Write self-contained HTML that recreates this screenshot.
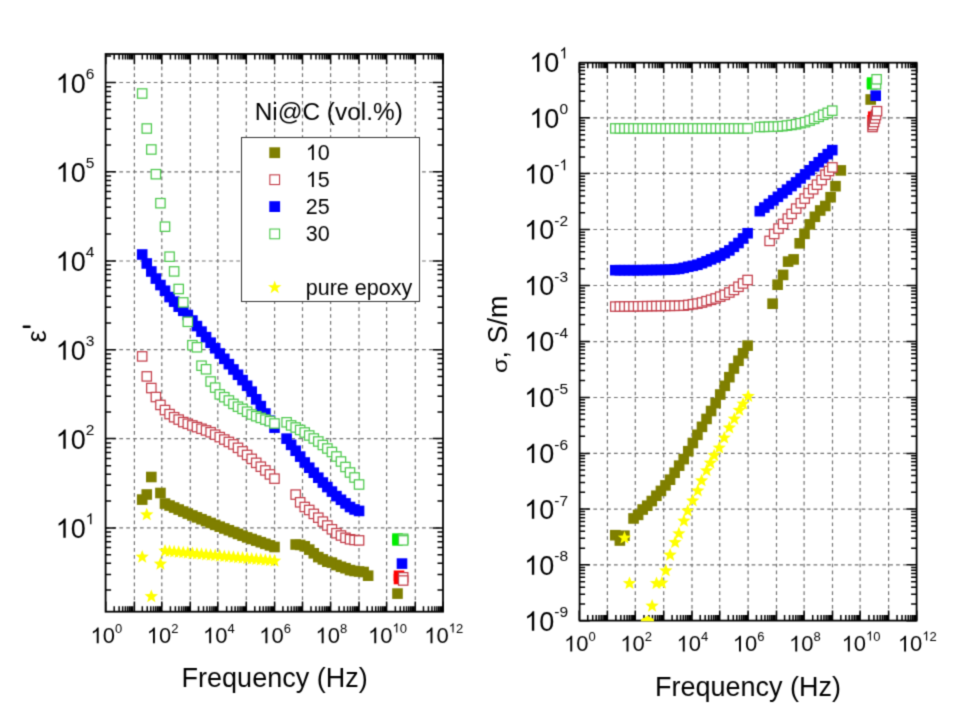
<!DOCTYPE html>
<html><head><meta charset="utf-8"><style>
html,body{margin:0;padding:0;background:#fff;}
svg{display:block;will-change:transform;}
text{font-family:"Liberation Sans",sans-serif;}
</style></head><body>
<svg width="965" height="714" viewBox="0 0 965 714">
<defs><filter id="soft" x="0" y="0" width="965" height="714" filterUnits="userSpaceOnUse" color-interpolation-filters="sRGB"><feConvolveMatrix order="3" kernelMatrix="0.0625 0.25 0.0625 0.25 1 0.25 0.0625 0.25 0.0625" divisor="2.25" edgeMode="duplicate"/></filter></defs>
<g filter="url(#soft)">
<rect width="965" height="714" fill="#fff"/>
<g id="left">
<line x1="134.40" y1="54.00" x2="134.40" y2="611.70" stroke="#727272" stroke-width="1.2" stroke-dasharray="3.7 3.18" stroke-dashoffset="1.28"/>
<line x1="161.80" y1="54.00" x2="161.80" y2="611.70" stroke="#727272" stroke-width="1.2" stroke-dasharray="3.7 3.18" stroke-dashoffset="1.28"/>
<line x1="190.30" y1="54.00" x2="190.30" y2="611.70" stroke="#727272" stroke-width="1.2" stroke-dasharray="3.7 3.18" stroke-dashoffset="1.28"/>
<line x1="217.80" y1="54.00" x2="217.80" y2="611.70" stroke="#727272" stroke-width="1.2" stroke-dasharray="3.7 3.18" stroke-dashoffset="1.28"/>
<line x1="246.30" y1="54.00" x2="246.30" y2="611.70" stroke="#727272" stroke-width="1.2" stroke-dasharray="3.7 3.18" stroke-dashoffset="1.28"/>
<line x1="274.60" y1="54.00" x2="274.60" y2="611.70" stroke="#727272" stroke-width="1.2" stroke-dasharray="3.7 3.18" stroke-dashoffset="1.28"/>
<line x1="302.50" y1="54.00" x2="302.50" y2="611.70" stroke="#727272" stroke-width="1.2" stroke-dasharray="3.7 3.18" stroke-dashoffset="1.28"/>
<line x1="330.60" y1="54.00" x2="330.60" y2="611.70" stroke="#727272" stroke-width="1.2" stroke-dasharray="3.7 3.18" stroke-dashoffset="1.28"/>
<line x1="359.00" y1="54.00" x2="359.00" y2="611.70" stroke="#727272" stroke-width="1.2" stroke-dasharray="3.7 3.18" stroke-dashoffset="1.28"/>
<line x1="386.60" y1="54.00" x2="386.60" y2="611.70" stroke="#727272" stroke-width="1.2" stroke-dasharray="3.7 3.18" stroke-dashoffset="1.28"/>
<line x1="415.30" y1="54.00" x2="415.30" y2="611.70" stroke="#727272" stroke-width="1.2" stroke-dasharray="3.7 3.18" stroke-dashoffset="1.28"/>
<line x1="105.60" y1="527.90" x2="443.00" y2="527.90" stroke="#727272" stroke-width="1.2" stroke-dasharray="3.7 3.18"/>
<line x1="105.60" y1="438.60" x2="443.00" y2="438.60" stroke="#727272" stroke-width="1.2" stroke-dasharray="3.7 3.18"/>
<line x1="105.60" y1="349.70" x2="443.00" y2="349.70" stroke="#727272" stroke-width="1.2" stroke-dasharray="3.7 3.18"/>
<line x1="105.60" y1="261.00" x2="443.00" y2="261.00" stroke="#727272" stroke-width="1.2" stroke-dasharray="3.7 3.18"/>
<line x1="105.60" y1="171.80" x2="443.00" y2="171.80" stroke="#727272" stroke-width="1.2" stroke-dasharray="3.7 3.18"/>
<line x1="105.60" y1="82.50" x2="443.00" y2="82.50" stroke="#727272" stroke-width="1.2" stroke-dasharray="3.7 3.18"/>
<rect x="241.5" y="137.5" width="178" height="164" fill="#fff" stroke="#333" stroke-width="1"/>
<rect x="136.90" y="494.30" width="10.60" height="10.60" fill="#7f7f00"/>
<rect x="141.46" y="489.20" width="10.60" height="10.60" fill="#7f7f00"/>
<rect x="146.02" y="471.70" width="10.60" height="10.60" fill="#7f7f00"/>
<rect x="155.15" y="487.70" width="10.60" height="10.60" fill="#7f7f00"/>
<rect x="159.71" y="498.25" width="10.60" height="10.60" fill="#7f7f00"/>
<rect x="164.27" y="500.25" width="10.60" height="10.60" fill="#7f7f00"/>
<rect x="168.83" y="502.25" width="10.60" height="10.60" fill="#7f7f00"/>
<rect x="173.40" y="504.25" width="10.60" height="10.60" fill="#7f7f00"/>
<rect x="177.96" y="506.25" width="10.60" height="10.60" fill="#7f7f00"/>
<rect x="182.52" y="508.24" width="10.60" height="10.60" fill="#7f7f00"/>
<rect x="187.08" y="510.18" width="10.60" height="10.60" fill="#7f7f00"/>
<rect x="191.64" y="512.05" width="10.60" height="10.60" fill="#7f7f00"/>
<rect x="196.21" y="513.93" width="10.60" height="10.60" fill="#7f7f00"/>
<rect x="200.77" y="515.80" width="10.60" height="10.60" fill="#7f7f00"/>
<rect x="205.33" y="517.67" width="10.60" height="10.60" fill="#7f7f00"/>
<rect x="209.89" y="519.55" width="10.60" height="10.60" fill="#7f7f00"/>
<rect x="214.45" y="521.39" width="10.60" height="10.60" fill="#7f7f00"/>
<rect x="219.02" y="523.18" width="10.60" height="10.60" fill="#7f7f00"/>
<rect x="223.58" y="524.97" width="10.60" height="10.60" fill="#7f7f00"/>
<rect x="228.14" y="526.77" width="10.60" height="10.60" fill="#7f7f00"/>
<rect x="232.70" y="528.56" width="10.60" height="10.60" fill="#7f7f00"/>
<rect x="237.26" y="530.35" width="10.60" height="10.60" fill="#7f7f00"/>
<rect x="241.83" y="532.10" width="10.60" height="10.60" fill="#7f7f00"/>
<rect x="246.39" y="533.70" width="10.60" height="10.60" fill="#7f7f00"/>
<rect x="250.95" y="535.30" width="10.60" height="10.60" fill="#7f7f00"/>
<rect x="255.51" y="536.90" width="10.60" height="10.60" fill="#7f7f00"/>
<rect x="260.07" y="538.50" width="10.60" height="10.60" fill="#7f7f00"/>
<rect x="264.64" y="540.10" width="10.60" height="10.60" fill="#7f7f00"/>
<rect x="269.20" y="541.70" width="10.60" height="10.60" fill="#7f7f00"/>
<rect x="290.36" y="539.20" width="10.60" height="10.60" fill="#7f7f00"/>
<rect x="294.89" y="539.60" width="10.60" height="10.60" fill="#7f7f00"/>
<rect x="299.42" y="541.00" width="10.60" height="10.60" fill="#7f7f00"/>
<rect x="303.95" y="544.30" width="10.60" height="10.60" fill="#7f7f00"/>
<rect x="308.48" y="548.00" width="10.60" height="10.60" fill="#7f7f00"/>
<rect x="313.01" y="551.80" width="10.60" height="10.60" fill="#7f7f00"/>
<rect x="317.54" y="554.10" width="10.60" height="10.60" fill="#7f7f00"/>
<rect x="322.07" y="556.40" width="10.60" height="10.60" fill="#7f7f00"/>
<rect x="326.60" y="557.30" width="10.60" height="10.60" fill="#7f7f00"/>
<rect x="331.13" y="559.70" width="10.60" height="10.60" fill="#7f7f00"/>
<rect x="335.66" y="561.50" width="10.60" height="10.60" fill="#7f7f00"/>
<rect x="340.19" y="562.90" width="10.60" height="10.60" fill="#7f7f00"/>
<rect x="344.72" y="564.80" width="10.60" height="10.60" fill="#7f7f00"/>
<rect x="349.25" y="565.70" width="10.60" height="10.60" fill="#7f7f00"/>
<rect x="353.78" y="566.20" width="10.60" height="10.60" fill="#7f7f00"/>
<rect x="358.31" y="566.70" width="10.60" height="10.60" fill="#7f7f00"/>
<rect x="362.84" y="570.40" width="10.60" height="10.60" fill="#7f7f00"/>
<rect x="136.90" y="249.20" width="10.60" height="10.60" fill="#0000ff"/>
<rect x="141.46" y="258.17" width="10.60" height="10.60" fill="#0000ff"/>
<rect x="146.02" y="266.20" width="10.60" height="10.60" fill="#0000ff"/>
<rect x="150.59" y="273.26" width="10.60" height="10.60" fill="#0000ff"/>
<rect x="155.15" y="279.75" width="10.60" height="10.60" fill="#0000ff"/>
<rect x="159.71" y="285.44" width="10.60" height="10.60" fill="#0000ff"/>
<rect x="164.27" y="291.77" width="10.60" height="10.60" fill="#0000ff"/>
<rect x="168.83" y="296.35" width="10.60" height="10.60" fill="#0000ff"/>
<rect x="173.40" y="301.38" width="10.60" height="10.60" fill="#0000ff"/>
<rect x="177.96" y="305.48" width="10.60" height="10.60" fill="#0000ff"/>
<rect x="182.52" y="309.71" width="10.60" height="10.60" fill="#0000ff"/>
<rect x="187.08" y="315.25" width="10.60" height="10.60" fill="#0000ff"/>
<rect x="191.64" y="320.78" width="10.60" height="10.60" fill="#0000ff"/>
<rect x="196.21" y="326.32" width="10.60" height="10.60" fill="#0000ff"/>
<rect x="200.77" y="331.86" width="10.60" height="10.60" fill="#0000ff"/>
<rect x="205.33" y="337.40" width="10.60" height="10.60" fill="#0000ff"/>
<rect x="209.89" y="342.92" width="10.60" height="10.60" fill="#0000ff"/>
<rect x="214.45" y="348.23" width="10.60" height="10.60" fill="#0000ff"/>
<rect x="219.02" y="353.54" width="10.60" height="10.60" fill="#0000ff"/>
<rect x="223.58" y="358.85" width="10.60" height="10.60" fill="#0000ff"/>
<rect x="228.14" y="364.16" width="10.60" height="10.60" fill="#0000ff"/>
<rect x="232.70" y="369.47" width="10.60" height="10.60" fill="#0000ff"/>
<rect x="237.26" y="374.78" width="10.60" height="10.60" fill="#0000ff"/>
<rect x="241.83" y="380.48" width="10.60" height="10.60" fill="#0000ff"/>
<rect x="246.39" y="386.35" width="10.60" height="10.60" fill="#0000ff"/>
<rect x="250.95" y="394.02" width="10.60" height="10.60" fill="#0000ff"/>
<rect x="255.51" y="400.82" width="10.60" height="10.60" fill="#0000ff"/>
<rect x="260.07" y="408.22" width="10.60" height="10.60" fill="#0000ff"/>
<rect x="264.64" y="415.41" width="10.60" height="10.60" fill="#0000ff"/>
<rect x="269.20" y="422.35" width="10.60" height="10.60" fill="#0000ff"/>
<rect x="281.30" y="433.35" width="10.60" height="10.60" fill="#0000ff"/>
<rect x="285.83" y="439.55" width="10.60" height="10.60" fill="#0000ff"/>
<rect x="290.36" y="445.43" width="10.60" height="10.60" fill="#0000ff"/>
<rect x="294.89" y="451.31" width="10.60" height="10.60" fill="#0000ff"/>
<rect x="299.42" y="457.20" width="10.60" height="10.60" fill="#0000ff"/>
<rect x="303.95" y="462.41" width="10.60" height="10.60" fill="#0000ff"/>
<rect x="308.48" y="467.41" width="10.60" height="10.60" fill="#0000ff"/>
<rect x="313.01" y="472.41" width="10.60" height="10.60" fill="#0000ff"/>
<rect x="317.54" y="477.24" width="10.60" height="10.60" fill="#0000ff"/>
<rect x="322.07" y="481.77" width="10.60" height="10.60" fill="#0000ff"/>
<rect x="326.60" y="486.30" width="10.60" height="10.60" fill="#0000ff"/>
<rect x="331.13" y="490.83" width="10.60" height="10.60" fill="#0000ff"/>
<rect x="335.66" y="494.48" width="10.60" height="10.60" fill="#0000ff"/>
<rect x="340.19" y="498.10" width="10.60" height="10.60" fill="#0000ff"/>
<rect x="344.72" y="501.72" width="10.60" height="10.60" fill="#0000ff"/>
<rect x="349.25" y="504.14" width="10.60" height="10.60" fill="#0000ff"/>
<rect x="353.78" y="505.63" width="10.60" height="10.60" fill="#0000ff"/>
<rect x="137.52" y="351.72" width="9.35" height="9.35" fill="#fff" stroke="#c23c48" stroke-width="1.25"/>
<rect x="142.09" y="371.72" width="9.35" height="9.35" fill="#fff" stroke="#c23c48" stroke-width="1.25"/>
<rect x="146.65" y="383.37" width="9.35" height="9.35" fill="#fff" stroke="#c23c48" stroke-width="1.25"/>
<rect x="151.21" y="392.36" width="9.35" height="9.35" fill="#fff" stroke="#c23c48" stroke-width="1.25"/>
<rect x="155.77" y="400.24" width="9.35" height="9.35" fill="#fff" stroke="#c23c48" stroke-width="1.25"/>
<rect x="160.33" y="405.39" width="9.35" height="9.35" fill="#fff" stroke="#c23c48" stroke-width="1.25"/>
<rect x="164.90" y="409.44" width="9.35" height="9.35" fill="#fff" stroke="#c23c48" stroke-width="1.25"/>
<rect x="169.46" y="412.55" width="9.35" height="9.35" fill="#fff" stroke="#c23c48" stroke-width="1.25"/>
<rect x="174.02" y="414.93" width="9.35" height="9.35" fill="#fff" stroke="#c23c48" stroke-width="1.25"/>
<rect x="178.58" y="417.42" width="9.35" height="9.35" fill="#fff" stroke="#c23c48" stroke-width="1.25"/>
<rect x="183.14" y="419.09" width="9.35" height="9.35" fill="#fff" stroke="#c23c48" stroke-width="1.25"/>
<rect x="187.71" y="420.76" width="9.35" height="9.35" fill="#fff" stroke="#c23c48" stroke-width="1.25"/>
<rect x="192.27" y="422.42" width="9.35" height="9.35" fill="#fff" stroke="#c23c48" stroke-width="1.25"/>
<rect x="196.83" y="424.09" width="9.35" height="9.35" fill="#fff" stroke="#c23c48" stroke-width="1.25"/>
<rect x="201.39" y="425.76" width="9.35" height="9.35" fill="#fff" stroke="#c23c48" stroke-width="1.25"/>
<rect x="205.95" y="427.57" width="9.35" height="9.35" fill="#fff" stroke="#c23c48" stroke-width="1.25"/>
<rect x="210.52" y="430.00" width="9.35" height="9.35" fill="#fff" stroke="#c23c48" stroke-width="1.25"/>
<rect x="215.08" y="432.43" width="9.35" height="9.35" fill="#fff" stroke="#c23c48" stroke-width="1.25"/>
<rect x="219.64" y="434.87" width="9.35" height="9.35" fill="#fff" stroke="#c23c48" stroke-width="1.25"/>
<rect x="224.20" y="437.30" width="9.35" height="9.35" fill="#fff" stroke="#c23c48" stroke-width="1.25"/>
<rect x="228.76" y="439.73" width="9.35" height="9.35" fill="#fff" stroke="#c23c48" stroke-width="1.25"/>
<rect x="233.33" y="443.16" width="9.35" height="9.35" fill="#fff" stroke="#c23c48" stroke-width="1.25"/>
<rect x="237.89" y="446.70" width="9.35" height="9.35" fill="#fff" stroke="#c23c48" stroke-width="1.25"/>
<rect x="242.45" y="450.30" width="9.35" height="9.35" fill="#fff" stroke="#c23c48" stroke-width="1.25"/>
<rect x="247.01" y="454.17" width="9.35" height="9.35" fill="#fff" stroke="#c23c48" stroke-width="1.25"/>
<rect x="251.57" y="458.17" width="9.35" height="9.35" fill="#fff" stroke="#c23c48" stroke-width="1.25"/>
<rect x="256.14" y="462.04" width="9.35" height="9.35" fill="#fff" stroke="#c23c48" stroke-width="1.25"/>
<rect x="260.70" y="465.76" width="9.35" height="9.35" fill="#fff" stroke="#c23c48" stroke-width="1.25"/>
<rect x="265.26" y="469.73" width="9.35" height="9.35" fill="#fff" stroke="#c23c48" stroke-width="1.25"/>
<rect x="269.82" y="473.99" width="9.35" height="9.35" fill="#fff" stroke="#c23c48" stroke-width="1.25"/>
<rect x="290.99" y="489.93" width="9.35" height="9.35" fill="#fff" stroke="#c23c48" stroke-width="1.25"/>
<rect x="295.51" y="497.62" width="9.35" height="9.35" fill="#fff" stroke="#c23c48" stroke-width="1.25"/>
<rect x="300.05" y="502.32" width="9.35" height="9.35" fill="#fff" stroke="#c23c48" stroke-width="1.25"/>
<rect x="304.57" y="505.32" width="9.35" height="9.35" fill="#fff" stroke="#c23c48" stroke-width="1.25"/>
<rect x="309.11" y="509.22" width="9.35" height="9.35" fill="#fff" stroke="#c23c48" stroke-width="1.25"/>
<rect x="313.63" y="513.03" width="9.35" height="9.35" fill="#fff" stroke="#c23c48" stroke-width="1.25"/>
<rect x="318.17" y="516.93" width="9.35" height="9.35" fill="#fff" stroke="#c23c48" stroke-width="1.25"/>
<rect x="322.69" y="520.83" width="9.35" height="9.35" fill="#fff" stroke="#c23c48" stroke-width="1.25"/>
<rect x="327.23" y="524.62" width="9.35" height="9.35" fill="#fff" stroke="#c23c48" stroke-width="1.25"/>
<rect x="331.75" y="528.53" width="9.35" height="9.35" fill="#fff" stroke="#c23c48" stroke-width="1.25"/>
<rect x="336.29" y="530.83" width="9.35" height="9.35" fill="#fff" stroke="#c23c48" stroke-width="1.25"/>
<rect x="340.81" y="533.12" width="9.35" height="9.35" fill="#fff" stroke="#c23c48" stroke-width="1.25"/>
<rect x="345.35" y="534.62" width="9.35" height="9.35" fill="#fff" stroke="#c23c48" stroke-width="1.25"/>
<rect x="349.88" y="535.33" width="9.35" height="9.35" fill="#fff" stroke="#c23c48" stroke-width="1.25"/>
<rect x="354.41" y="535.73" width="9.35" height="9.35" fill="#fff" stroke="#c23c48" stroke-width="1.25"/>
<rect x="137.52" y="88.83" width="9.35" height="9.35" fill="#fff" stroke="#4cc84c" stroke-width="1.25"/>
<rect x="142.09" y="123.83" width="9.35" height="9.35" fill="#fff" stroke="#4cc84c" stroke-width="1.25"/>
<rect x="146.65" y="144.82" width="9.35" height="9.35" fill="#fff" stroke="#4cc84c" stroke-width="1.25"/>
<rect x="151.21" y="169.52" width="9.35" height="9.35" fill="#fff" stroke="#4cc84c" stroke-width="1.25"/>
<rect x="155.77" y="198.52" width="9.35" height="9.35" fill="#fff" stroke="#4cc84c" stroke-width="1.25"/>
<rect x="160.33" y="222.02" width="9.35" height="9.35" fill="#fff" stroke="#4cc84c" stroke-width="1.25"/>
<rect x="164.90" y="252.02" width="9.35" height="9.35" fill="#fff" stroke="#4cc84c" stroke-width="1.25"/>
<rect x="169.46" y="266.72" width="9.35" height="9.35" fill="#fff" stroke="#4cc84c" stroke-width="1.25"/>
<rect x="174.02" y="284.32" width="9.35" height="9.35" fill="#fff" stroke="#4cc84c" stroke-width="1.25"/>
<rect x="178.58" y="297.72" width="9.35" height="9.35" fill="#fff" stroke="#4cc84c" stroke-width="1.25"/>
<rect x="183.14" y="317.12" width="9.35" height="9.35" fill="#fff" stroke="#4cc84c" stroke-width="1.25"/>
<rect x="187.71" y="340.52" width="9.35" height="9.35" fill="#fff" stroke="#4cc84c" stroke-width="1.25"/>
<rect x="192.27" y="342.62" width="9.35" height="9.35" fill="#fff" stroke="#4cc84c" stroke-width="1.25"/>
<rect x="196.83" y="361.02" width="9.35" height="9.35" fill="#fff" stroke="#4cc84c" stroke-width="1.25"/>
<rect x="201.39" y="364.62" width="9.35" height="9.35" fill="#fff" stroke="#4cc84c" stroke-width="1.25"/>
<rect x="205.95" y="376.82" width="9.35" height="9.35" fill="#fff" stroke="#4cc84c" stroke-width="1.25"/>
<rect x="210.52" y="382.93" width="9.35" height="9.35" fill="#fff" stroke="#4cc84c" stroke-width="1.25"/>
<rect x="215.08" y="389.72" width="9.35" height="9.35" fill="#fff" stroke="#4cc84c" stroke-width="1.25"/>
<rect x="219.64" y="392.52" width="9.35" height="9.35" fill="#fff" stroke="#4cc84c" stroke-width="1.25"/>
<rect x="224.20" y="395.82" width="9.35" height="9.35" fill="#fff" stroke="#4cc84c" stroke-width="1.25"/>
<rect x="228.76" y="399.22" width="9.35" height="9.35" fill="#fff" stroke="#4cc84c" stroke-width="1.25"/>
<rect x="233.33" y="402.02" width="9.35" height="9.35" fill="#fff" stroke="#4cc84c" stroke-width="1.25"/>
<rect x="237.89" y="404.22" width="9.35" height="9.35" fill="#fff" stroke="#4cc84c" stroke-width="1.25"/>
<rect x="242.45" y="407.02" width="9.35" height="9.35" fill="#fff" stroke="#4cc84c" stroke-width="1.25"/>
<rect x="247.01" y="409.82" width="9.35" height="9.35" fill="#fff" stroke="#4cc84c" stroke-width="1.25"/>
<rect x="251.57" y="411.52" width="9.35" height="9.35" fill="#fff" stroke="#4cc84c" stroke-width="1.25"/>
<rect x="256.14" y="413.22" width="9.35" height="9.35" fill="#fff" stroke="#4cc84c" stroke-width="1.25"/>
<rect x="260.70" y="414.93" width="9.35" height="9.35" fill="#fff" stroke="#4cc84c" stroke-width="1.25"/>
<rect x="265.26" y="416.52" width="9.35" height="9.35" fill="#fff" stroke="#4cc84c" stroke-width="1.25"/>
<rect x="269.82" y="418.82" width="9.35" height="9.35" fill="#fff" stroke="#4cc84c" stroke-width="1.25"/>
<rect x="281.93" y="417.62" width="9.35" height="9.35" fill="#fff" stroke="#4cc84c" stroke-width="1.25"/>
<rect x="286.45" y="420.72" width="9.35" height="9.35" fill="#fff" stroke="#4cc84c" stroke-width="1.25"/>
<rect x="290.99" y="422.82" width="9.35" height="9.35" fill="#fff" stroke="#4cc84c" stroke-width="1.25"/>
<rect x="295.51" y="425.32" width="9.35" height="9.35" fill="#fff" stroke="#4cc84c" stroke-width="1.25"/>
<rect x="300.05" y="427.82" width="9.35" height="9.35" fill="#fff" stroke="#4cc84c" stroke-width="1.25"/>
<rect x="304.57" y="430.82" width="9.35" height="9.35" fill="#fff" stroke="#4cc84c" stroke-width="1.25"/>
<rect x="309.11" y="433.82" width="9.35" height="9.35" fill="#fff" stroke="#4cc84c" stroke-width="1.25"/>
<rect x="313.63" y="436.82" width="9.35" height="9.35" fill="#fff" stroke="#4cc84c" stroke-width="1.25"/>
<rect x="318.17" y="440.32" width="9.35" height="9.35" fill="#fff" stroke="#4cc84c" stroke-width="1.25"/>
<rect x="322.69" y="443.82" width="9.35" height="9.35" fill="#fff" stroke="#4cc84c" stroke-width="1.25"/>
<rect x="327.23" y="447.32" width="9.35" height="9.35" fill="#fff" stroke="#4cc84c" stroke-width="1.25"/>
<rect x="331.75" y="451.82" width="9.35" height="9.35" fill="#fff" stroke="#4cc84c" stroke-width="1.25"/>
<rect x="336.29" y="456.82" width="9.35" height="9.35" fill="#fff" stroke="#4cc84c" stroke-width="1.25"/>
<rect x="340.81" y="462.32" width="9.35" height="9.35" fill="#fff" stroke="#4cc84c" stroke-width="1.25"/>
<rect x="345.35" y="467.82" width="9.35" height="9.35" fill="#fff" stroke="#4cc84c" stroke-width="1.25"/>
<rect x="349.88" y="472.82" width="9.35" height="9.35" fill="#fff" stroke="#4cc84c" stroke-width="1.25"/>
<rect x="354.41" y="479.82" width="9.35" height="9.35" fill="#fff" stroke="#4cc84c" stroke-width="1.25"/>
<polygon points="142.20,550.00 143.96,554.57 148.86,554.84 145.05,557.93 146.31,562.66 142.20,560.00 138.09,562.66 139.35,557.93 135.54,554.84 140.44,554.57" fill="#ffff00"/>
<polygon points="146.76,507.70 148.53,512.27 153.42,512.54 149.62,515.63 150.88,520.36 146.76,517.70 142.65,520.36 143.91,515.63 140.10,512.54 145.00,512.27" fill="#ffff00"/>
<polygon points="151.32,589.50 153.09,594.07 157.98,594.34 154.18,597.43 155.44,602.16 151.32,599.50 147.21,602.16 148.47,597.43 144.67,594.34 149.56,594.07" fill="#ffff00"/>
<polygon points="160.45,557.00 162.21,561.57 167.11,561.84 163.30,564.93 164.56,569.66 160.45,567.00 156.33,569.66 157.59,564.93 153.79,561.84 158.68,561.57" fill="#ffff00"/>
<polygon points="165.01,544.00 166.77,548.57 171.67,548.84 167.86,551.93 169.12,556.66 165.01,554.00 160.90,556.66 162.16,551.93 158.35,548.84 163.25,548.57" fill="#ffff00"/>
<polygon points="169.57,544.42 171.34,548.99 176.23,549.25 172.43,552.34 173.69,557.08 169.57,554.42 165.46,557.08 166.72,552.34 162.91,549.25 167.81,548.99" fill="#ffff00"/>
<polygon points="174.13,544.83 175.90,549.41 180.79,549.67 176.99,552.76 178.25,557.50 174.13,554.83 170.02,557.50 171.28,552.76 167.48,549.67 172.37,549.41" fill="#ffff00"/>
<polygon points="178.70,545.25 180.46,549.82 185.35,550.09 181.55,553.18 182.81,557.91 178.70,555.25 174.58,557.91 175.84,553.18 172.04,550.09 176.93,549.82" fill="#ffff00"/>
<polygon points="183.26,545.67 185.02,550.24 189.92,550.50 186.11,553.59 187.37,558.33 183.26,555.67 179.14,558.33 180.40,553.59 176.60,550.50 181.49,550.24" fill="#ffff00"/>
<polygon points="187.82,546.08 189.58,550.66 194.48,550.92 190.67,554.01 191.93,558.75 187.82,556.08 183.71,558.75 184.97,554.01 181.16,550.92 186.06,550.66" fill="#ffff00"/>
<polygon points="192.38,546.50 194.15,551.07 199.04,551.34 195.24,554.43 196.50,559.16 192.38,556.50 188.27,559.16 189.53,554.43 185.72,551.34 190.62,551.07" fill="#ffff00"/>
<polygon points="196.94,546.92 198.71,551.49 203.60,551.75 199.80,554.84 201.06,559.58 196.94,556.92 192.83,559.58 194.09,554.84 190.29,551.75 195.18,551.49" fill="#ffff00"/>
<polygon points="201.51,547.33 203.27,551.91 208.16,552.17 204.36,555.26 205.62,560.00 201.51,557.33 197.39,560.00 198.65,555.26 194.85,552.17 199.74,551.91" fill="#ffff00"/>
<polygon points="206.07,547.75 207.83,552.32 212.73,552.59 208.92,555.68 210.18,560.41 206.07,557.75 201.95,560.41 203.21,555.68 199.41,552.59 204.30,552.32" fill="#ffff00"/>
<polygon points="210.63,548.17 212.39,552.74 217.29,553.00 213.48,556.09 214.74,560.83 210.63,558.17 206.52,560.83 207.78,556.09 203.97,553.00 208.87,552.74" fill="#ffff00"/>
<polygon points="215.19,548.58 216.96,553.16 221.85,553.42 218.05,556.51 219.31,561.25 215.19,558.58 211.08,561.25 212.34,556.51 208.53,553.42 213.43,553.16" fill="#ffff00"/>
<polygon points="219.75,549.00 221.52,553.57 226.41,553.84 222.61,556.93 223.87,561.66 219.75,559.00 215.64,561.66 216.90,556.93 213.10,553.84 217.99,553.57" fill="#ffff00"/>
<polygon points="224.32,549.42 226.08,553.99 230.97,554.25 227.17,557.34 228.43,562.08 224.32,559.42 220.20,562.08 221.46,557.34 217.66,554.25 222.55,553.99" fill="#ffff00"/>
<polygon points="228.88,549.83 230.64,554.41 235.54,554.67 231.73,557.76 232.99,562.50 228.88,559.83 224.76,562.50 226.02,557.76 222.22,554.67 227.11,554.41" fill="#ffff00"/>
<polygon points="233.44,550.25 235.20,554.82 240.10,555.09 236.29,558.18 237.55,562.91 233.44,560.25 229.33,562.91 230.59,558.18 226.78,555.09 231.68,554.82" fill="#ffff00"/>
<polygon points="238.00,550.67 239.77,555.24 244.66,555.50 240.86,558.59 242.12,563.33 238.00,560.67 233.89,563.33 235.15,558.59 231.34,555.50 236.24,555.24" fill="#ffff00"/>
<polygon points="242.56,551.08 244.33,555.66 249.22,555.92 245.42,559.01 246.68,563.75 242.56,561.08 238.45,563.75 239.71,559.01 235.91,555.92 240.80,555.66" fill="#ffff00"/>
<polygon points="247.13,551.50 248.89,556.07 253.78,556.34 249.98,559.43 251.24,564.16 247.13,561.50 243.01,564.16 244.27,559.43 240.47,556.34 245.36,556.07" fill="#ffff00"/>
<polygon points="251.69,551.92 253.45,556.49 258.35,556.75 254.54,559.84 255.80,564.58 251.69,561.92 247.57,564.58 248.83,559.84 245.03,556.75 249.92,556.49" fill="#ffff00"/>
<polygon points="256.25,552.33 258.01,556.91 262.91,557.17 259.10,560.26 260.36,565.00 256.25,562.33 252.14,565.00 253.40,560.26 249.59,557.17 254.49,556.91" fill="#ffff00"/>
<polygon points="260.81,552.75 262.58,557.32 267.47,557.59 263.67,560.68 264.93,565.41 260.81,562.75 256.70,565.41 257.96,560.68 254.15,557.59 259.05,557.32" fill="#ffff00"/>
<polygon points="265.37,553.17 267.14,557.74 272.03,558.00 268.23,561.09 269.49,565.83 265.37,563.17 261.26,565.83 262.52,561.09 258.72,558.00 263.61,557.74" fill="#ffff00"/>
<polygon points="269.94,553.58 271.70,558.16 276.59,558.42 272.79,561.51 274.05,566.25 269.94,563.58 265.82,566.25 267.08,561.51 263.28,558.42 268.17,558.16" fill="#ffff00"/>
<polygon points="274.50,554.00 276.26,558.57 281.16,558.84 277.35,561.93 278.61,566.66 274.50,564.00 270.38,566.66 271.64,561.93 267.84,558.84 272.73,558.57" fill="#ffff00"/>
<rect x="392.20" y="533.30" width="10.60" height="10.60" fill="#00ee00"/>
<rect x="392.20" y="535.10" width="10.60" height="10.60" fill="#00ee00"/>
<rect x="398.52" y="534.12" width="9.35" height="9.35" fill="#fff" stroke="#4cc84c" stroke-width="1.25"/>
<rect x="398.52" y="535.73" width="9.35" height="9.35" fill="#fff" stroke="#4cc84c" stroke-width="1.25"/>
<rect x="396.70" y="558.30" width="10.60" height="10.60" fill="#0000ff"/>
<rect x="393.70" y="570.50" width="10.60" height="10.60" fill="#ff0000"/>
<rect x="393.70" y="573.70" width="10.60" height="10.60" fill="#ff0000"/>
<rect x="398.52" y="572.62" width="9.35" height="9.35" fill="#fff" stroke="#c23c48" stroke-width="1.25"/>
<rect x="398.52" y="575.83" width="9.35" height="9.35" fill="#fff" stroke="#c23c48" stroke-width="1.25"/>
<rect x="392.20" y="588.30" width="10.60" height="10.60" fill="#7f7f00"/>
<path d="M105.73 611.70L105.73 601.50 M105.73 54.00L105.73 64.20 M114.19 611.70L114.19 606.20 M114.19 54.00L114.19 59.50 M119.15 611.70L119.15 606.20 M119.15 54.00L119.15 59.50 M122.66 611.70L122.66 606.20 M122.66 54.00L122.66 59.50 M125.38 611.70L125.38 606.20 M125.38 54.00L125.38 59.50 M127.61 611.70L127.61 606.20 M127.61 54.00L127.61 59.50 M129.49 611.70L129.49 606.20 M129.49 54.00L129.49 59.50 M131.12 611.70L131.12 606.20 M131.12 54.00L131.12 59.50 M132.56 611.70L132.56 606.20 M132.56 54.00L132.56 59.50 M134.40 611.70L134.40 601.50 M134.40 54.00L134.40 64.20 M142.31 611.70L142.31 606.20 M142.31 54.00L142.31 59.50 M147.26 611.70L147.26 606.20 M147.26 54.00L147.26 59.50 M150.78 611.70L150.78 606.20 M150.78 54.00L150.78 59.50 M153.50 611.70L153.50 606.20 M153.50 54.00L153.50 59.50 M155.73 611.70L155.73 606.20 M155.73 54.00L155.73 59.50 M157.61 611.70L157.61 606.20 M157.61 54.00L157.61 59.50 M159.24 611.70L159.24 606.20 M159.24 54.00L159.24 59.50 M160.68 611.70L160.68 606.20 M160.68 54.00L160.68 59.50 M161.80 611.70L161.80 601.50 M161.80 54.00L161.80 64.20 M170.43 611.70L170.43 606.20 M170.43 54.00L170.43 59.50 M175.38 611.70L175.38 606.20 M175.38 54.00L175.38 59.50 M178.89 611.70L178.89 606.20 M178.89 54.00L178.89 59.50 M181.62 611.70L181.62 606.20 M181.62 54.00L181.62 59.50 M183.84 611.70L183.84 606.20 M183.84 54.00L183.84 59.50 M185.73 611.70L185.73 606.20 M185.73 54.00L185.73 59.50 M187.36 611.70L187.36 606.20 M187.36 54.00L187.36 59.50 M188.79 611.70L188.79 606.20 M188.79 54.00L188.79 59.50 M190.30 611.70L190.30 601.50 M190.30 54.00L190.30 64.20 M198.55 611.70L198.55 606.20 M198.55 54.00L198.55 59.50 M203.50 611.70L203.50 606.20 M203.50 54.00L203.50 59.50 M207.01 611.70L207.01 606.20 M207.01 54.00L207.01 59.50 M209.73 611.70L209.73 606.20 M209.73 54.00L209.73 59.50 M211.96 611.70L211.96 606.20 M211.96 54.00L211.96 59.50 M213.84 611.70L213.84 606.20 M213.84 54.00L213.84 59.50 M215.47 611.70L215.47 606.20 M215.47 54.00L215.47 59.50 M216.91 611.70L216.91 606.20 M216.91 54.00L216.91 59.50 M217.80 611.70L217.80 601.50 M217.80 54.00L217.80 64.20 M226.66 611.70L226.66 606.20 M226.66 54.00L226.66 59.50 M231.61 611.70L231.61 606.20 M231.61 54.00L231.61 59.50 M235.13 611.70L235.13 606.20 M235.13 54.00L235.13 59.50 M237.85 611.70L237.85 606.20 M237.85 54.00L237.85 59.50 M240.08 611.70L240.08 606.20 M240.08 54.00L240.08 59.50 M241.96 611.70L241.96 606.20 M241.96 54.00L241.96 59.50 M243.59 611.70L243.59 606.20 M243.59 54.00L243.59 59.50 M245.03 611.70L245.03 606.20 M245.03 54.00L245.03 59.50 M246.30 611.70L246.30 601.50 M246.30 54.00L246.30 64.20 M254.78 611.70L254.78 606.20 M254.78 54.00L254.78 59.50 M259.73 611.70L259.73 606.20 M259.73 54.00L259.73 59.50 M263.24 611.70L263.24 606.20 M263.24 54.00L263.24 59.50 M265.97 611.70L265.97 606.20 M265.97 54.00L265.97 59.50 M268.19 611.70L268.19 606.20 M268.19 54.00L268.19 59.50 M270.08 611.70L270.08 606.20 M270.08 54.00L270.08 59.50 M271.71 611.70L271.71 606.20 M271.71 54.00L271.71 59.50 M273.15 611.70L273.15 606.20 M273.15 54.00L273.15 59.50 M274.60 611.70L274.60 601.50 M274.60 54.00L274.60 64.20 M282.90 611.70L282.90 606.20 M282.90 54.00L282.90 59.50 M287.85 611.70L287.85 606.20 M287.85 54.00L287.85 59.50 M291.36 611.70L291.36 606.20 M291.36 54.00L291.36 59.50 M294.08 611.70L294.08 606.20 M294.08 54.00L294.08 59.50 M296.31 611.70L296.31 606.20 M296.31 54.00L296.31 59.50 M298.19 611.70L298.19 606.20 M298.19 54.00L298.19 59.50 M299.82 611.70L299.82 606.20 M299.82 54.00L299.82 59.50 M301.26 611.70L301.26 606.20 M301.26 54.00L301.26 59.50 M302.50 611.70L302.50 601.50 M302.50 54.00L302.50 64.20 M311.01 611.70L311.01 606.20 M311.01 54.00L311.01 59.50 M315.96 611.70L315.96 606.20 M315.96 54.00L315.96 59.50 M319.48 611.70L319.48 606.20 M319.48 54.00L319.48 59.50 M322.20 611.70L322.20 606.20 M322.20 54.00L322.20 59.50 M324.43 611.70L324.43 606.20 M324.43 54.00L324.43 59.50 M326.31 611.70L326.31 606.20 M326.31 54.00L326.31 59.50 M327.94 611.70L327.94 606.20 M327.94 54.00L327.94 59.50 M329.38 611.70L329.38 606.20 M329.38 54.00L329.38 59.50 M330.60 611.70L330.60 601.50 M330.60 54.00L330.60 64.20 M339.13 611.70L339.13 606.20 M339.13 54.00L339.13 59.50 M344.08 611.70L344.08 606.20 M344.08 54.00L344.08 59.50 M347.59 611.70L347.59 606.20 M347.59 54.00L347.59 59.50 M350.32 611.70L350.32 606.20 M350.32 54.00L350.32 59.50 M352.55 611.70L352.55 606.20 M352.55 54.00L352.55 59.50 M354.43 611.70L354.43 606.20 M354.43 54.00L354.43 59.50 M356.06 611.70L356.06 606.20 M356.06 54.00L356.06 59.50 M357.50 611.70L357.50 606.20 M357.50 54.00L357.50 59.50 M359.00 611.70L359.00 601.50 M359.00 54.00L359.00 64.20 M367.25 611.70L367.25 606.20 M367.25 54.00L367.25 59.50 M372.20 611.70L372.20 606.20 M372.20 54.00L372.20 59.50 M375.71 611.70L375.71 606.20 M375.71 54.00L375.71 59.50 M378.44 611.70L378.44 606.20 M378.44 54.00L378.44 59.50 M380.66 611.70L380.66 606.20 M380.66 54.00L380.66 59.50 M382.54 611.70L382.54 606.20 M382.54 54.00L382.54 59.50 M384.18 611.70L384.18 606.20 M384.18 54.00L384.18 59.50 M385.61 611.70L385.61 606.20 M385.61 54.00L385.61 59.50 M386.60 611.70L386.60 601.50 M386.60 54.00L386.60 64.20 M395.36 611.70L395.36 606.20 M395.36 54.00L395.36 59.50 M400.32 611.70L400.32 606.20 M400.32 54.00L400.32 59.50 M403.83 611.70L403.83 606.20 M403.83 54.00L403.83 59.50 M406.55 611.70L406.55 606.20 M406.55 54.00L406.55 59.50 M408.78 611.70L408.78 606.20 M408.78 54.00L408.78 59.50 M410.66 611.70L410.66 606.20 M410.66 54.00L410.66 59.50 M412.29 611.70L412.29 606.20 M412.29 54.00L412.29 59.50 M413.73 611.70L413.73 606.20 M413.73 54.00L413.73 59.50 M415.30 611.70L415.30 601.50 M415.30 54.00L415.30 64.20 M423.48 611.70L423.48 606.20 M423.48 54.00L423.48 59.50 M428.43 611.70L428.43 606.20 M428.43 54.00L428.43 59.50 M431.95 611.70L431.95 606.20 M431.95 54.00L431.95 59.50 M434.67 611.70L434.67 606.20 M434.67 54.00L434.67 59.50 M436.90 611.70L436.90 606.20 M436.90 54.00L436.90 59.50 M438.78 611.70L438.78 606.20 M438.78 54.00L438.78 59.50 M440.41 611.70L440.41 606.20 M440.41 54.00L440.41 59.50 M441.85 611.70L441.85 606.20 M441.85 54.00L441.85 59.50 M443.13 611.70L443.13 601.50 M443.13 54.00L443.13 64.20 M105.60 590.05L111.10 590.05 M443.00 590.05L437.50 590.05 M105.60 574.38L111.10 574.38 M443.00 574.38L437.50 574.38 M105.60 563.26L111.10 563.26 M443.00 563.26L437.50 563.26 M105.60 554.63L111.10 554.63 M443.00 554.63L437.50 554.63 M105.60 547.59L111.10 547.59 M443.00 547.59L437.50 547.59 M105.60 541.63L111.10 541.63 M443.00 541.63L437.50 541.63 M105.60 536.47L111.10 536.47 M443.00 536.47L437.50 536.47 M105.60 531.91L111.10 531.91 M443.00 531.91L437.50 531.91 M105.60 527.90L115.80 527.90 M443.00 527.90L432.80 527.90 M105.60 501.05L111.10 501.05 M443.00 501.05L437.50 501.05 M105.60 485.37L111.10 485.37 M443.00 485.37L437.50 485.37 M105.60 474.25L111.10 474.25 M443.00 474.25L437.50 474.25 M105.60 465.63L111.10 465.63 M443.00 465.63L437.50 465.63 M105.60 458.58L111.10 458.58 M443.00 458.58L437.50 458.58 M105.60 452.62L111.10 452.62 M443.00 452.62L437.50 452.62 M105.60 447.46L111.10 447.46 M443.00 447.46L437.50 447.46 M105.60 442.90L111.10 442.90 M443.00 442.90L437.50 442.90 M105.60 438.60L115.80 438.60 M443.00 438.60L432.80 438.60 M105.60 412.04L111.10 412.04 M443.00 412.04L437.50 412.04 M105.60 396.36L111.10 396.36 M443.00 396.36L437.50 396.36 M105.60 385.24L111.10 385.24 M443.00 385.24L437.50 385.24 M105.60 376.62L111.10 376.62 M443.00 376.62L437.50 376.62 M105.60 369.57L111.10 369.57 M443.00 369.57L437.50 369.57 M105.60 363.61L111.10 363.61 M443.00 363.61L437.50 363.61 M105.60 358.45L111.10 358.45 M443.00 358.45L437.50 358.45 M105.60 353.90L111.10 353.90 M443.00 353.90L437.50 353.90 M105.60 349.70L115.80 349.70 M443.00 349.70L432.80 349.70 M105.60 323.03L111.10 323.03 M443.00 323.03L437.50 323.03 M105.60 307.36L111.10 307.36 M443.00 307.36L437.50 307.36 M105.60 296.24L111.10 296.24 M443.00 296.24L437.50 296.24 M105.60 287.61L111.10 287.61 M443.00 287.61L437.50 287.61 M105.60 280.56L111.10 280.56 M443.00 280.56L437.50 280.56 M105.60 274.60L111.10 274.60 M443.00 274.60L437.50 274.60 M105.60 269.44L111.10 269.44 M443.00 269.44L437.50 269.44 M105.60 264.89L111.10 264.89 M443.00 264.89L437.50 264.89 M105.60 261.00L115.80 261.00 M443.00 261.00L432.80 261.00 M105.60 234.02L111.10 234.02 M443.00 234.02L437.50 234.02 M105.60 218.35L111.10 218.35 M443.00 218.35L437.50 218.35 M105.60 207.23L111.10 207.23 M443.00 207.23L437.50 207.23 M105.60 198.60L111.10 198.60 M443.00 198.60L437.50 198.60 M105.60 191.55L111.10 191.55 M443.00 191.55L437.50 191.55 M105.60 185.60L111.10 185.60 M443.00 185.60L437.50 185.60 M105.60 180.43L111.10 180.43 M443.00 180.43L437.50 180.43 M105.60 175.88L111.10 175.88 M443.00 175.88L437.50 175.88 M105.60 171.80L115.80 171.80 M443.00 171.80L432.80 171.80 M105.60 145.01L111.10 145.01 M443.00 145.01L437.50 145.01 M105.60 129.34L111.10 129.34 M443.00 129.34L437.50 129.34 M105.60 118.22L111.10 118.22 M443.00 118.22L437.50 118.22 M105.60 109.59L111.10 109.59 M443.00 109.59L437.50 109.59 M105.60 102.55L111.10 102.55 M443.00 102.55L437.50 102.55 M105.60 96.59L111.10 96.59 M443.00 96.59L437.50 96.59 M105.60 91.43L111.10 91.43 M443.00 91.43L437.50 91.43 M105.60 86.87L111.10 86.87 M443.00 86.87L437.50 86.87 M105.60 82.50L115.80 82.50 M443.00 82.50L432.80 82.50 M105.60 56.01L111.10 56.01 M443.00 56.01L437.50 56.01" stroke="#000" stroke-width="1.5" fill="none"/>
<rect x="105.60" y="54.00" width="337.40" height="557.70" fill="none" stroke="#000" stroke-width="1.8"/>
</g>
<g id="right">
<line x1="607.40" y1="62.70" x2="607.40" y2="620.60" stroke="#727272" stroke-width="1.2" stroke-dasharray="3.7 3.18" stroke-dashoffset="1.28"/>
<line x1="635.30" y1="62.70" x2="635.30" y2="620.60" stroke="#727272" stroke-width="1.2" stroke-dasharray="3.7 3.18" stroke-dashoffset="1.28"/>
<line x1="663.70" y1="62.70" x2="663.70" y2="620.60" stroke="#727272" stroke-width="1.2" stroke-dasharray="3.7 3.18" stroke-dashoffset="1.28"/>
<line x1="692.00" y1="62.70" x2="692.00" y2="620.60" stroke="#727272" stroke-width="1.2" stroke-dasharray="3.7 3.18" stroke-dashoffset="1.28"/>
<line x1="719.70" y1="62.70" x2="719.70" y2="620.60" stroke="#727272" stroke-width="1.2" stroke-dasharray="3.7 3.18" stroke-dashoffset="1.28"/>
<line x1="748.10" y1="62.70" x2="748.10" y2="620.60" stroke="#727272" stroke-width="1.2" stroke-dasharray="3.7 3.18" stroke-dashoffset="1.28"/>
<line x1="776.50" y1="62.70" x2="776.50" y2="620.60" stroke="#727272" stroke-width="1.2" stroke-dasharray="3.7 3.18" stroke-dashoffset="1.28"/>
<line x1="804.10" y1="62.70" x2="804.10" y2="620.60" stroke="#727272" stroke-width="1.2" stroke-dasharray="3.7 3.18" stroke-dashoffset="1.28"/>
<line x1="832.50" y1="62.70" x2="832.50" y2="620.60" stroke="#727272" stroke-width="1.2" stroke-dasharray="3.7 3.18" stroke-dashoffset="1.28"/>
<line x1="860.10" y1="62.70" x2="860.10" y2="620.60" stroke="#727272" stroke-width="1.2" stroke-dasharray="3.7 3.18" stroke-dashoffset="1.28"/>
<line x1="888.60" y1="62.70" x2="888.60" y2="620.60" stroke="#727272" stroke-width="1.2" stroke-dasharray="3.7 3.18" stroke-dashoffset="1.28"/>
<line x1="579.60" y1="564.80" x2="916.60" y2="564.80" stroke="#727272" stroke-width="1.2" stroke-dasharray="3.7 3.18"/>
<line x1="579.60" y1="509.10" x2="916.60" y2="509.10" stroke="#727272" stroke-width="1.2" stroke-dasharray="3.7 3.18"/>
<line x1="579.60" y1="453.40" x2="916.60" y2="453.40" stroke="#727272" stroke-width="1.2" stroke-dasharray="3.7 3.18"/>
<line x1="579.60" y1="397.50" x2="916.60" y2="397.50" stroke="#727272" stroke-width="1.2" stroke-dasharray="3.7 3.18"/>
<line x1="579.60" y1="341.60" x2="916.60" y2="341.60" stroke="#727272" stroke-width="1.2" stroke-dasharray="3.7 3.18"/>
<line x1="579.60" y1="285.50" x2="916.60" y2="285.50" stroke="#727272" stroke-width="1.2" stroke-dasharray="3.7 3.18"/>
<line x1="579.60" y1="229.50" x2="916.60" y2="229.50" stroke="#727272" stroke-width="1.2" stroke-dasharray="3.7 3.18"/>
<line x1="579.60" y1="173.40" x2="916.60" y2="173.40" stroke="#727272" stroke-width="1.2" stroke-dasharray="3.7 3.18"/>
<line x1="579.60" y1="117.80" x2="916.60" y2="117.80" stroke="#727272" stroke-width="1.2" stroke-dasharray="3.7 3.18"/>
<rect x="610.00" y="529.90" width="10.60" height="10.60" fill="#7f7f00"/>
<rect x="614.56" y="535.20" width="10.60" height="10.60" fill="#7f7f00"/>
<rect x="619.12" y="530.40" width="10.60" height="10.60" fill="#7f7f00"/>
<rect x="628.25" y="513.16" width="10.60" height="10.60" fill="#7f7f00"/>
<rect x="632.81" y="509.57" width="10.60" height="10.60" fill="#7f7f00"/>
<rect x="637.37" y="504.23" width="10.60" height="10.60" fill="#7f7f00"/>
<rect x="641.93" y="500.42" width="10.60" height="10.60" fill="#7f7f00"/>
<rect x="646.50" y="495.73" width="10.60" height="10.60" fill="#7f7f00"/>
<rect x="651.06" y="490.45" width="10.60" height="10.60" fill="#7f7f00"/>
<rect x="655.62" y="485.60" width="10.60" height="10.60" fill="#7f7f00"/>
<rect x="660.18" y="480.09" width="10.60" height="10.60" fill="#7f7f00"/>
<rect x="664.74" y="474.40" width="10.60" height="10.60" fill="#7f7f00"/>
<rect x="669.31" y="467.47" width="10.60" height="10.60" fill="#7f7f00"/>
<rect x="673.87" y="460.37" width="10.60" height="10.60" fill="#7f7f00"/>
<rect x="678.43" y="453.80" width="10.60" height="10.60" fill="#7f7f00"/>
<rect x="682.99" y="445.89" width="10.60" height="10.60" fill="#7f7f00"/>
<rect x="687.55" y="437.70" width="10.60" height="10.60" fill="#7f7f00"/>
<rect x="692.12" y="429.51" width="10.60" height="10.60" fill="#7f7f00"/>
<rect x="696.68" y="421.54" width="10.60" height="10.60" fill="#7f7f00"/>
<rect x="701.24" y="413.62" width="10.60" height="10.60" fill="#7f7f00"/>
<rect x="705.80" y="405.70" width="10.60" height="10.60" fill="#7f7f00"/>
<rect x="710.36" y="397.78" width="10.60" height="10.60" fill="#7f7f00"/>
<rect x="714.93" y="389.23" width="10.60" height="10.60" fill="#7f7f00"/>
<rect x="719.49" y="380.55" width="10.60" height="10.60" fill="#7f7f00"/>
<rect x="724.05" y="371.88" width="10.60" height="10.60" fill="#7f7f00"/>
<rect x="728.61" y="363.21" width="10.60" height="10.60" fill="#7f7f00"/>
<rect x="733.17" y="355.48" width="10.60" height="10.60" fill="#7f7f00"/>
<rect x="737.74" y="347.92" width="10.60" height="10.60" fill="#7f7f00"/>
<rect x="742.30" y="340.36" width="10.60" height="10.60" fill="#7f7f00"/>
<rect x="767.30" y="298.40" width="10.60" height="10.60" fill="#7f7f00"/>
<rect x="772.30" y="279.40" width="10.60" height="10.60" fill="#7f7f00"/>
<rect x="777.80" y="269.60" width="10.60" height="10.60" fill="#7f7f00"/>
<rect x="782.80" y="256.30" width="10.60" height="10.60" fill="#7f7f00"/>
<rect x="788.30" y="254.10" width="10.60" height="10.60" fill="#7f7f00"/>
<rect x="794.40" y="238.00" width="10.60" height="10.60" fill="#7f7f00"/>
<rect x="799.20" y="228.50" width="10.60" height="10.60" fill="#7f7f00"/>
<rect x="804.60" y="219.10" width="10.60" height="10.60" fill="#7f7f00"/>
<rect x="809.60" y="211.50" width="10.60" height="10.60" fill="#7f7f00"/>
<rect x="814.90" y="205.20" width="10.60" height="10.60" fill="#7f7f00"/>
<rect x="820.00" y="200.70" width="10.60" height="10.60" fill="#7f7f00"/>
<rect x="825.30" y="191.90" width="10.60" height="10.60" fill="#7f7f00"/>
<rect x="830.20" y="180.90" width="10.60" height="10.60" fill="#7f7f00"/>
<rect x="835.50" y="165.10" width="10.60" height="10.60" fill="#7f7f00"/>
<rect x="610.00" y="264.90" width="10.60" height="10.60" fill="#0000ff"/>
<rect x="614.56" y="264.90" width="10.60" height="10.60" fill="#0000ff"/>
<rect x="619.12" y="264.90" width="10.60" height="10.60" fill="#0000ff"/>
<rect x="623.69" y="264.90" width="10.60" height="10.60" fill="#0000ff"/>
<rect x="628.25" y="264.90" width="10.60" height="10.60" fill="#0000ff"/>
<rect x="632.81" y="264.90" width="10.60" height="10.60" fill="#0000ff"/>
<rect x="637.37" y="264.86" width="10.60" height="10.60" fill="#0000ff"/>
<rect x="641.93" y="264.80" width="10.60" height="10.60" fill="#0000ff"/>
<rect x="646.50" y="264.73" width="10.60" height="10.60" fill="#0000ff"/>
<rect x="651.06" y="264.67" width="10.60" height="10.60" fill="#0000ff"/>
<rect x="655.62" y="264.60" width="10.60" height="10.60" fill="#0000ff"/>
<rect x="660.18" y="264.54" width="10.60" height="10.60" fill="#0000ff"/>
<rect x="664.74" y="264.35" width="10.60" height="10.60" fill="#0000ff"/>
<rect x="669.31" y="263.96" width="10.60" height="10.60" fill="#0000ff"/>
<rect x="673.87" y="263.56" width="10.60" height="10.60" fill="#0000ff"/>
<rect x="678.43" y="262.58" width="10.60" height="10.60" fill="#0000ff"/>
<rect x="682.99" y="261.48" width="10.60" height="10.60" fill="#0000ff"/>
<rect x="687.55" y="260.55" width="10.60" height="10.60" fill="#0000ff"/>
<rect x="692.12" y="259.47" width="10.60" height="10.60" fill="#0000ff"/>
<rect x="696.68" y="257.82" width="10.60" height="10.60" fill="#0000ff"/>
<rect x="701.24" y="256.05" width="10.60" height="10.60" fill="#0000ff"/>
<rect x="705.80" y="254.07" width="10.60" height="10.60" fill="#0000ff"/>
<rect x="710.36" y="252.18" width="10.60" height="10.60" fill="#0000ff"/>
<rect x="714.93" y="250.37" width="10.60" height="10.60" fill="#0000ff"/>
<rect x="719.49" y="247.86" width="10.60" height="10.60" fill="#0000ff"/>
<rect x="724.05" y="245.11" width="10.60" height="10.60" fill="#0000ff"/>
<rect x="728.61" y="241.50" width="10.60" height="10.60" fill="#0000ff"/>
<rect x="733.17" y="237.73" width="10.60" height="10.60" fill="#0000ff"/>
<rect x="737.74" y="233.16" width="10.60" height="10.60" fill="#0000ff"/>
<rect x="742.30" y="227.96" width="10.60" height="10.60" fill="#0000ff"/>
<rect x="754.50" y="205.86" width="10.60" height="10.60" fill="#0000ff"/>
<rect x="759.03" y="202.27" width="10.60" height="10.60" fill="#0000ff"/>
<rect x="763.56" y="198.69" width="10.60" height="10.60" fill="#0000ff"/>
<rect x="768.09" y="195.10" width="10.60" height="10.60" fill="#0000ff"/>
<rect x="772.62" y="191.51" width="10.60" height="10.60" fill="#0000ff"/>
<rect x="777.15" y="187.93" width="10.60" height="10.60" fill="#0000ff"/>
<rect x="781.68" y="184.34" width="10.60" height="10.60" fill="#0000ff"/>
<rect x="786.21" y="180.75" width="10.60" height="10.60" fill="#0000ff"/>
<rect x="790.74" y="177.16" width="10.60" height="10.60" fill="#0000ff"/>
<rect x="795.27" y="173.12" width="10.60" height="10.60" fill="#0000ff"/>
<rect x="799.80" y="169.08" width="10.60" height="10.60" fill="#0000ff"/>
<rect x="804.33" y="165.03" width="10.60" height="10.60" fill="#0000ff"/>
<rect x="808.86" y="160.99" width="10.60" height="10.60" fill="#0000ff"/>
<rect x="813.39" y="156.94" width="10.60" height="10.60" fill="#0000ff"/>
<rect x="817.92" y="152.90" width="10.60" height="10.60" fill="#0000ff"/>
<rect x="822.45" y="148.85" width="10.60" height="10.60" fill="#0000ff"/>
<rect x="826.98" y="144.81" width="10.60" height="10.60" fill="#0000ff"/>
<rect x="610.62" y="301.93" width="9.35" height="9.35" fill="#fff" stroke="#c23c48" stroke-width="1.25"/>
<rect x="615.19" y="301.86" width="9.35" height="9.35" fill="#fff" stroke="#c23c48" stroke-width="1.25"/>
<rect x="619.75" y="301.80" width="9.35" height="9.35" fill="#fff" stroke="#c23c48" stroke-width="1.25"/>
<rect x="624.31" y="301.74" width="9.35" height="9.35" fill="#fff" stroke="#c23c48" stroke-width="1.25"/>
<rect x="628.87" y="301.68" width="9.35" height="9.35" fill="#fff" stroke="#c23c48" stroke-width="1.25"/>
<rect x="633.43" y="301.62" width="9.35" height="9.35" fill="#fff" stroke="#c23c48" stroke-width="1.25"/>
<rect x="638.00" y="301.56" width="9.35" height="9.35" fill="#fff" stroke="#c23c48" stroke-width="1.25"/>
<rect x="642.56" y="301.50" width="9.35" height="9.35" fill="#fff" stroke="#c23c48" stroke-width="1.25"/>
<rect x="647.12" y="301.44" width="9.35" height="9.35" fill="#fff" stroke="#c23c48" stroke-width="1.25"/>
<rect x="651.68" y="301.38" width="9.35" height="9.35" fill="#fff" stroke="#c23c48" stroke-width="1.25"/>
<rect x="656.25" y="301.32" width="9.35" height="9.35" fill="#fff" stroke="#c23c48" stroke-width="1.25"/>
<rect x="660.81" y="301.26" width="9.35" height="9.35" fill="#fff" stroke="#c23c48" stroke-width="1.25"/>
<rect x="665.37" y="301.20" width="9.35" height="9.35" fill="#fff" stroke="#c23c48" stroke-width="1.25"/>
<rect x="669.93" y="301.14" width="9.35" height="9.35" fill="#fff" stroke="#c23c48" stroke-width="1.25"/>
<rect x="674.49" y="301.07" width="9.35" height="9.35" fill="#fff" stroke="#c23c48" stroke-width="1.25"/>
<rect x="679.06" y="300.90" width="9.35" height="9.35" fill="#fff" stroke="#c23c48" stroke-width="1.25"/>
<rect x="683.62" y="300.25" width="9.35" height="9.35" fill="#fff" stroke="#c23c48" stroke-width="1.25"/>
<rect x="688.18" y="299.59" width="9.35" height="9.35" fill="#fff" stroke="#c23c48" stroke-width="1.25"/>
<rect x="692.74" y="298.93" width="9.35" height="9.35" fill="#fff" stroke="#c23c48" stroke-width="1.25"/>
<rect x="697.30" y="297.88" width="9.35" height="9.35" fill="#fff" stroke="#c23c48" stroke-width="1.25"/>
<rect x="701.87" y="296.50" width="9.35" height="9.35" fill="#fff" stroke="#c23c48" stroke-width="1.25"/>
<rect x="706.43" y="295.13" width="9.35" height="9.35" fill="#fff" stroke="#c23c48" stroke-width="1.25"/>
<rect x="710.99" y="293.76" width="9.35" height="9.35" fill="#fff" stroke="#c23c48" stroke-width="1.25"/>
<rect x="715.55" y="291.98" width="9.35" height="9.35" fill="#fff" stroke="#c23c48" stroke-width="1.25"/>
<rect x="720.11" y="290.13" width="9.35" height="9.35" fill="#fff" stroke="#c23c48" stroke-width="1.25"/>
<rect x="724.67" y="287.82" width="9.35" height="9.35" fill="#fff" stroke="#c23c48" stroke-width="1.25"/>
<rect x="729.24" y="285.28" width="9.35" height="9.35" fill="#fff" stroke="#c23c48" stroke-width="1.25"/>
<rect x="733.80" y="282.09" width="9.35" height="9.35" fill="#fff" stroke="#c23c48" stroke-width="1.25"/>
<rect x="738.36" y="278.78" width="9.35" height="9.35" fill="#fff" stroke="#c23c48" stroke-width="1.25"/>
<rect x="742.92" y="275.33" width="9.35" height="9.35" fill="#fff" stroke="#c23c48" stroke-width="1.25"/>
<rect x="764.93" y="236.22" width="9.35" height="9.35" fill="#fff" stroke="#c23c48" stroke-width="1.25"/>
<rect x="769.53" y="229.32" width="9.35" height="9.35" fill="#fff" stroke="#c23c48" stroke-width="1.25"/>
<rect x="773.83" y="223.92" width="9.35" height="9.35" fill="#fff" stroke="#c23c48" stroke-width="1.25"/>
<rect x="778.43" y="219.32" width="9.35" height="9.35" fill="#fff" stroke="#c23c48" stroke-width="1.25"/>
<rect x="783.12" y="213.92" width="9.35" height="9.35" fill="#fff" stroke="#c23c48" stroke-width="1.25"/>
<rect x="786.93" y="209.32" width="9.35" height="9.35" fill="#fff" stroke="#c23c48" stroke-width="1.25"/>
<rect x="791.53" y="203.92" width="9.35" height="9.35" fill="#fff" stroke="#c23c48" stroke-width="1.25"/>
<rect x="796.12" y="198.52" width="9.35" height="9.35" fill="#fff" stroke="#c23c48" stroke-width="1.25"/>
<rect x="800.03" y="193.92" width="9.35" height="9.35" fill="#fff" stroke="#c23c48" stroke-width="1.25"/>
<rect x="803.93" y="188.52" width="9.35" height="9.35" fill="#fff" stroke="#c23c48" stroke-width="1.25"/>
<rect x="808.53" y="184.62" width="9.35" height="9.35" fill="#fff" stroke="#c23c48" stroke-width="1.25"/>
<rect x="812.33" y="180.02" width="9.35" height="9.35" fill="#fff" stroke="#c23c48" stroke-width="1.25"/>
<rect x="816.93" y="175.42" width="9.35" height="9.35" fill="#fff" stroke="#c23c48" stroke-width="1.25"/>
<rect x="820.83" y="170.02" width="9.35" height="9.35" fill="#fff" stroke="#c23c48" stroke-width="1.25"/>
<rect x="824.33" y="166.32" width="9.35" height="9.35" fill="#fff" stroke="#c23c48" stroke-width="1.25"/>
<rect x="827.73" y="162.72" width="9.35" height="9.35" fill="#fff" stroke="#c23c48" stroke-width="1.25"/>
<rect x="610.62" y="123.73" width="9.35" height="9.35" fill="#fff" stroke="#4cc84c" stroke-width="1.25"/>
<rect x="615.19" y="123.73" width="9.35" height="9.35" fill="#fff" stroke="#4cc84c" stroke-width="1.25"/>
<rect x="619.75" y="123.73" width="9.35" height="9.35" fill="#fff" stroke="#4cc84c" stroke-width="1.25"/>
<rect x="624.31" y="123.73" width="9.35" height="9.35" fill="#fff" stroke="#4cc84c" stroke-width="1.25"/>
<rect x="628.87" y="123.73" width="9.35" height="9.35" fill="#fff" stroke="#4cc84c" stroke-width="1.25"/>
<rect x="633.43" y="123.73" width="9.35" height="9.35" fill="#fff" stroke="#4cc84c" stroke-width="1.25"/>
<rect x="638.00" y="123.73" width="9.35" height="9.35" fill="#fff" stroke="#4cc84c" stroke-width="1.25"/>
<rect x="642.56" y="123.73" width="9.35" height="9.35" fill="#fff" stroke="#4cc84c" stroke-width="1.25"/>
<rect x="647.12" y="123.73" width="9.35" height="9.35" fill="#fff" stroke="#4cc84c" stroke-width="1.25"/>
<rect x="651.68" y="123.73" width="9.35" height="9.35" fill="#fff" stroke="#4cc84c" stroke-width="1.25"/>
<rect x="656.25" y="123.73" width="9.35" height="9.35" fill="#fff" stroke="#4cc84c" stroke-width="1.25"/>
<rect x="660.81" y="123.73" width="9.35" height="9.35" fill="#fff" stroke="#4cc84c" stroke-width="1.25"/>
<rect x="665.37" y="123.73" width="9.35" height="9.35" fill="#fff" stroke="#4cc84c" stroke-width="1.25"/>
<rect x="669.93" y="123.73" width="9.35" height="9.35" fill="#fff" stroke="#4cc84c" stroke-width="1.25"/>
<rect x="674.49" y="123.73" width="9.35" height="9.35" fill="#fff" stroke="#4cc84c" stroke-width="1.25"/>
<rect x="679.06" y="123.73" width="9.35" height="9.35" fill="#fff" stroke="#4cc84c" stroke-width="1.25"/>
<rect x="683.62" y="123.73" width="9.35" height="9.35" fill="#fff" stroke="#4cc84c" stroke-width="1.25"/>
<rect x="688.18" y="123.73" width="9.35" height="9.35" fill="#fff" stroke="#4cc84c" stroke-width="1.25"/>
<rect x="692.74" y="123.73" width="9.35" height="9.35" fill="#fff" stroke="#4cc84c" stroke-width="1.25"/>
<rect x="697.30" y="123.73" width="9.35" height="9.35" fill="#fff" stroke="#4cc84c" stroke-width="1.25"/>
<rect x="701.87" y="123.73" width="9.35" height="9.35" fill="#fff" stroke="#4cc84c" stroke-width="1.25"/>
<rect x="706.43" y="123.73" width="9.35" height="9.35" fill="#fff" stroke="#4cc84c" stroke-width="1.25"/>
<rect x="710.99" y="123.73" width="9.35" height="9.35" fill="#fff" stroke="#4cc84c" stroke-width="1.25"/>
<rect x="715.55" y="123.73" width="9.35" height="9.35" fill="#fff" stroke="#4cc84c" stroke-width="1.25"/>
<rect x="720.11" y="123.73" width="9.35" height="9.35" fill="#fff" stroke="#4cc84c" stroke-width="1.25"/>
<rect x="724.67" y="123.73" width="9.35" height="9.35" fill="#fff" stroke="#4cc84c" stroke-width="1.25"/>
<rect x="729.24" y="123.73" width="9.35" height="9.35" fill="#fff" stroke="#4cc84c" stroke-width="1.25"/>
<rect x="733.80" y="123.73" width="9.35" height="9.35" fill="#fff" stroke="#4cc84c" stroke-width="1.25"/>
<rect x="738.36" y="123.73" width="9.35" height="9.35" fill="#fff" stroke="#4cc84c" stroke-width="1.25"/>
<rect x="742.92" y="123.73" width="9.35" height="9.35" fill="#fff" stroke="#4cc84c" stroke-width="1.25"/>
<rect x="755.12" y="122.33" width="9.35" height="9.35" fill="#fff" stroke="#4cc84c" stroke-width="1.25"/>
<rect x="759.65" y="122.21" width="9.35" height="9.35" fill="#fff" stroke="#4cc84c" stroke-width="1.25"/>
<rect x="764.18" y="122.10" width="9.35" height="9.35" fill="#fff" stroke="#4cc84c" stroke-width="1.25"/>
<rect x="768.72" y="121.99" width="9.35" height="9.35" fill="#fff" stroke="#4cc84c" stroke-width="1.25"/>
<rect x="773.25" y="121.88" width="9.35" height="9.35" fill="#fff" stroke="#4cc84c" stroke-width="1.25"/>
<rect x="777.77" y="121.50" width="9.35" height="9.35" fill="#fff" stroke="#4cc84c" stroke-width="1.25"/>
<rect x="782.30" y="120.89" width="9.35" height="9.35" fill="#fff" stroke="#4cc84c" stroke-width="1.25"/>
<rect x="786.84" y="120.29" width="9.35" height="9.35" fill="#fff" stroke="#4cc84c" stroke-width="1.25"/>
<rect x="791.37" y="119.59" width="9.35" height="9.35" fill="#fff" stroke="#4cc84c" stroke-width="1.25"/>
<rect x="795.89" y="118.56" width="9.35" height="9.35" fill="#fff" stroke="#4cc84c" stroke-width="1.25"/>
<rect x="800.42" y="117.53" width="9.35" height="9.35" fill="#fff" stroke="#4cc84c" stroke-width="1.25"/>
<rect x="804.96" y="115.91" width="9.35" height="9.35" fill="#fff" stroke="#4cc84c" stroke-width="1.25"/>
<rect x="809.49" y="114.15" width="9.35" height="9.35" fill="#fff" stroke="#4cc84c" stroke-width="1.25"/>
<rect x="814.01" y="112.15" width="9.35" height="9.35" fill="#fff" stroke="#4cc84c" stroke-width="1.25"/>
<rect x="818.54" y="110.11" width="9.35" height="9.35" fill="#fff" stroke="#4cc84c" stroke-width="1.25"/>
<rect x="823.08" y="108.20" width="9.35" height="9.35" fill="#fff" stroke="#4cc84c" stroke-width="1.25"/>
<rect x="827.61" y="105.99" width="9.35" height="9.35" fill="#fff" stroke="#4cc84c" stroke-width="1.25"/>
<polygon points="624.50,530.90 626.26,535.47 631.16,535.74 627.35,538.83 628.61,543.56 624.50,540.90 620.39,543.56 621.65,538.83 617.84,535.74 622.74,535.47" fill="#ffff00"/>
<polygon points="629.50,576.40 631.26,580.97 636.16,581.24 632.35,584.33 633.61,589.06 629.50,586.40 625.39,589.06 626.65,584.33 622.84,581.24 627.74,580.97" fill="#ffff00"/>
<polygon points="652.10,599.00 653.86,603.57 658.76,603.84 654.95,606.93 656.21,611.66 652.10,609.00 647.99,611.66 649.25,606.93 645.44,603.84 650.34,603.57" fill="#ffff00"/>
<polygon points="656.50,576.40 658.26,580.97 663.16,581.24 659.35,584.33 660.61,589.06 656.50,586.40 652.39,589.06 653.65,584.33 649.84,581.24 654.74,580.97" fill="#ffff00"/>
<polygon points="661.90,576.00 663.66,580.57 668.56,580.84 664.75,583.93 666.01,588.66 661.90,586.00 657.79,588.66 659.05,583.93 655.24,580.84 660.14,580.57" fill="#ffff00"/>
<polygon points="665.80,563.70 667.56,568.27 672.46,568.54 668.65,571.63 669.91,576.36 665.80,573.70 661.69,576.36 662.95,571.63 659.14,568.54 664.04,568.27" fill="#ffff00"/>
<polygon points="670.10,548.00 671.86,552.57 676.76,552.84 672.95,555.93 674.21,560.66 670.10,558.00 665.99,560.66 667.25,555.93 663.44,552.84 668.34,552.57" fill="#ffff00"/>
<polygon points="675.10,535.40 676.86,539.97 681.76,540.24 677.95,543.33 679.21,548.06 675.10,545.40 670.99,548.06 672.25,543.33 668.44,540.24 673.34,539.97" fill="#ffff00"/>
<polygon points="678.90,526.60 680.66,531.17 685.56,531.44 681.75,534.53 683.01,539.26 678.90,536.60 674.79,539.26 676.05,534.53 672.24,531.44 677.14,531.17" fill="#ffff00"/>
<polygon points="683.90,514.00 685.66,518.57 690.56,518.84 686.75,521.93 688.01,526.66 683.90,524.00 679.79,526.66 681.05,521.93 677.24,518.84 682.14,518.57" fill="#ffff00"/>
<polygon points="687.70,503.90 689.46,508.47 694.36,508.74 690.55,511.83 691.81,516.56 687.70,513.90 683.59,516.56 684.85,511.83 681.04,508.74 685.94,508.47" fill="#ffff00"/>
<polygon points="692.70,493.80 694.46,498.37 699.36,498.64 695.55,501.73 696.81,506.46 692.70,503.80 688.59,506.46 689.85,501.73 686.04,498.64 690.94,498.37" fill="#ffff00"/>
<polygon points="697.80,483.80 699.56,488.37 704.46,488.64 700.65,491.73 701.91,496.46 697.80,493.80 693.69,496.46 694.95,491.73 691.14,488.64 696.04,488.37" fill="#ffff00"/>
<polygon points="701.60,473.70 703.36,478.27 708.26,478.54 704.45,481.63 705.71,486.36 701.60,483.70 697.49,486.36 698.75,481.63 694.94,478.54 699.84,478.27" fill="#ffff00"/>
<polygon points="706.60,463.60 708.36,468.17 713.26,468.44 709.45,471.53 710.71,476.26 706.60,473.60 702.49,476.26 703.75,471.53 699.94,468.44 704.84,468.17" fill="#ffff00"/>
<polygon points="710.40,456.00 712.16,460.57 717.06,460.84 713.25,463.93 714.51,468.66 710.40,466.00 706.29,468.66 707.55,463.93 703.74,460.84 708.64,460.57" fill="#ffff00"/>
<polygon points="714.20,448.50 715.96,453.07 720.86,453.34 717.05,456.43 718.31,461.16 714.20,458.50 710.09,461.16 711.35,456.43 707.54,453.34 712.44,453.07" fill="#ffff00"/>
<polygon points="719.20,440.90 720.96,445.47 725.86,445.74 722.05,448.83 723.31,453.56 719.20,450.90 715.09,453.56 716.35,448.83 712.54,445.74 717.44,445.47" fill="#ffff00"/>
<polygon points="724.20,430.90 725.96,435.47 730.86,435.74 727.05,438.83 728.31,443.56 724.20,440.90 720.09,443.56 721.35,438.83 717.54,435.74 722.44,435.47" fill="#ffff00"/>
<polygon points="729.30,420.80 731.06,425.37 735.96,425.64 732.15,428.73 733.41,433.46 729.30,430.80 725.19,433.46 726.45,428.73 722.64,425.64 727.54,425.37" fill="#ffff00"/>
<polygon points="734.30,412.00 736.06,416.57 740.96,416.84 737.15,419.93 738.41,424.66 734.30,422.00 730.19,424.66 731.45,419.93 727.64,416.84 732.54,416.57" fill="#ffff00"/>
<polygon points="739.30,403.20 741.06,407.77 745.96,408.04 742.15,411.13 743.41,415.86 739.30,413.20 735.19,415.86 736.45,411.13 732.64,408.04 737.54,407.77" fill="#ffff00"/>
<polygon points="743.10,396.90 744.86,401.47 749.76,401.74 745.95,404.83 747.21,409.56 743.10,406.90 738.99,409.56 740.25,404.83 736.44,401.74 741.34,401.47" fill="#ffff00"/>
<polygon points="748.20,389.30 749.96,393.87 754.86,394.14 751.05,397.23 752.31,401.96 748.20,399.30 744.09,401.96 745.35,397.23 741.54,394.14 746.44,393.87" fill="#ffff00"/>
<rect x="866.80" y="77.30" width="10.60" height="10.60" fill="#00ee00"/>
<rect x="866.80" y="78.90" width="10.60" height="10.60" fill="#00ee00"/>
<rect x="871.33" y="79.62" width="9.35" height="9.35" fill="#fff" stroke="#4cc84c" stroke-width="1.25"/>
<rect x="871.93" y="74.62" width="9.35" height="9.35" fill="#fff" stroke="#4cc84c" stroke-width="1.25"/>
<rect x="865.40" y="94.20" width="10.60" height="10.60" fill="#7f7f00"/>
<rect x="870.40" y="90.40" width="10.60" height="10.60" fill="#0000ff"/>
<rect x="867.90" y="111.40" width="10.60" height="10.60" fill="#ff0000"/>
<rect x="867.30" y="115.00" width="10.60" height="10.60" fill="#ff0000"/>
<rect x="867.83" y="122.33" width="9.35" height="9.35" fill="#fff" stroke="#c23c48" stroke-width="1.25"/>
<rect x="868.33" y="120.33" width="9.35" height="9.35" fill="#fff" stroke="#c23c48" stroke-width="1.25"/>
<rect x="869.33" y="117.33" width="9.35" height="9.35" fill="#fff" stroke="#c23c48" stroke-width="1.25"/>
<rect x="870.33" y="113.83" width="9.35" height="9.35" fill="#fff" stroke="#c23c48" stroke-width="1.25"/>
<rect x="871.33" y="110.33" width="9.35" height="9.35" fill="#fff" stroke="#c23c48" stroke-width="1.25"/>
<rect x="872.33" y="106.53" width="9.35" height="9.35" fill="#fff" stroke="#c23c48" stroke-width="1.25"/>
<path d="M579.28 620.60L579.28 610.40 M579.28 62.70L579.28 72.90 M587.74 620.60L587.74 615.10 M587.74 62.70L587.74 68.20 M592.70 620.60L592.70 615.10 M592.70 62.70L592.70 68.20 M596.21 620.60L596.21 615.10 M596.21 62.70L596.21 68.20 M598.94 620.60L598.94 615.10 M598.94 62.70L598.94 68.20 M601.16 620.60L601.16 615.10 M601.16 62.70L601.16 68.20 M603.04 620.60L603.04 615.10 M603.04 62.70L603.04 68.20 M604.67 620.60L604.67 615.10 M604.67 62.70L604.67 68.20 M606.11 620.60L606.11 615.10 M606.11 62.70L606.11 68.20 M607.40 620.60L607.40 610.40 M607.40 62.70L607.40 72.90 M615.86 620.60L615.86 615.10 M615.86 62.70L615.86 68.20 M620.82 620.60L620.82 615.10 M620.82 62.70L620.82 68.20 M624.33 620.60L624.33 615.10 M624.33 62.70L624.33 68.20 M627.06 620.60L627.06 615.10 M627.06 62.70L627.06 68.20 M629.28 620.60L629.28 615.10 M629.28 62.70L629.28 68.20 M631.16 620.60L631.16 615.10 M631.16 62.70L631.16 68.20 M632.79 620.60L632.79 615.10 M632.79 62.70L632.79 68.20 M634.23 620.60L634.23 615.10 M634.23 62.70L634.23 68.20 M635.30 620.60L635.30 610.40 M635.30 62.70L635.30 72.90 M643.98 620.60L643.98 615.10 M643.98 62.70L643.98 68.20 M648.94 620.60L648.94 615.10 M648.94 62.70L648.94 68.20 M652.45 620.60L652.45 615.10 M652.45 62.70L652.45 68.20 M655.18 620.60L655.18 615.10 M655.18 62.70L655.18 68.20 M657.40 620.60L657.40 615.10 M657.40 62.70L657.40 68.20 M659.28 620.60L659.28 615.10 M659.28 62.70L659.28 68.20 M660.91 620.60L660.91 615.10 M660.91 62.70L660.91 68.20 M662.35 620.60L662.35 615.10 M662.35 62.70L662.35 68.20 M663.70 620.60L663.70 610.40 M663.70 62.70L663.70 72.90 M672.10 620.60L672.10 615.10 M672.10 62.70L672.10 68.20 M677.06 620.60L677.06 615.10 M677.06 62.70L677.06 68.20 M680.57 620.60L680.57 615.10 M680.57 62.70L680.57 68.20 M683.30 620.60L683.30 615.10 M683.30 62.70L683.30 68.20 M685.52 620.60L685.52 615.10 M685.52 62.70L685.52 68.20 M687.40 620.60L687.40 615.10 M687.40 62.70L687.40 68.20 M689.03 620.60L689.03 615.10 M689.03 62.70L689.03 68.20 M690.47 620.60L690.47 615.10 M690.47 62.70L690.47 68.20 M692.00 620.60L692.00 610.40 M692.00 62.70L692.00 72.90 M700.22 620.60L700.22 615.10 M700.22 62.70L700.22 68.20 M705.18 620.60L705.18 615.10 M705.18 62.70L705.18 68.20 M708.69 620.60L708.69 615.10 M708.69 62.70L708.69 68.20 M711.42 620.60L711.42 615.10 M711.42 62.70L711.42 68.20 M713.64 620.60L713.64 615.10 M713.64 62.70L713.64 68.20 M715.52 620.60L715.52 615.10 M715.52 62.70L715.52 68.20 M717.15 620.60L717.15 615.10 M717.15 62.70L717.15 68.20 M718.59 620.60L718.59 615.10 M718.59 62.70L718.59 68.20 M719.70 620.60L719.70 610.40 M719.70 62.70L719.70 72.90 M728.34 620.60L728.34 615.10 M728.34 62.70L728.34 68.20 M733.30 620.60L733.30 615.10 M733.30 62.70L733.30 68.20 M736.81 620.60L736.81 615.10 M736.81 62.70L736.81 68.20 M739.54 620.60L739.54 615.10 M739.54 62.70L739.54 68.20 M741.76 620.60L741.76 615.10 M741.76 62.70L741.76 68.20 M743.64 620.60L743.64 615.10 M743.64 62.70L743.64 68.20 M745.27 620.60L745.27 615.10 M745.27 62.70L745.27 68.20 M746.71 620.60L746.71 615.10 M746.71 62.70L746.71 68.20 M748.10 620.60L748.10 610.40 M748.10 62.70L748.10 72.90 M756.46 620.60L756.46 615.10 M756.46 62.70L756.46 68.20 M761.42 620.60L761.42 615.10 M761.42 62.70L761.42 68.20 M764.93 620.60L764.93 615.10 M764.93 62.70L764.93 68.20 M767.66 620.60L767.66 615.10 M767.66 62.70L767.66 68.20 M769.88 620.60L769.88 615.10 M769.88 62.70L769.88 68.20 M771.76 620.60L771.76 615.10 M771.76 62.70L771.76 68.20 M773.39 620.60L773.39 615.10 M773.39 62.70L773.39 68.20 M774.83 620.60L774.83 615.10 M774.83 62.70L774.83 68.20 M776.50 620.60L776.50 610.40 M776.50 62.70L776.50 72.90 M784.58 620.60L784.58 615.10 M784.58 62.70L784.58 68.20 M789.54 620.60L789.54 615.10 M789.54 62.70L789.54 68.20 M793.05 620.60L793.05 615.10 M793.05 62.70L793.05 68.20 M795.78 620.60L795.78 615.10 M795.78 62.70L795.78 68.20 M798.00 620.60L798.00 615.10 M798.00 62.70L798.00 68.20 M799.88 620.60L799.88 615.10 M799.88 62.70L799.88 68.20 M801.51 620.60L801.51 615.10 M801.51 62.70L801.51 68.20 M802.95 620.60L802.95 615.10 M802.95 62.70L802.95 68.20 M804.10 620.60L804.10 610.40 M804.10 62.70L804.10 72.90 M812.70 620.60L812.70 615.10 M812.70 62.70L812.70 68.20 M817.66 620.60L817.66 615.10 M817.66 62.70L817.66 68.20 M821.17 620.60L821.17 615.10 M821.17 62.70L821.17 68.20 M823.90 620.60L823.90 615.10 M823.90 62.70L823.90 68.20 M826.12 620.60L826.12 615.10 M826.12 62.70L826.12 68.20 M828.00 620.60L828.00 615.10 M828.00 62.70L828.00 68.20 M829.63 620.60L829.63 615.10 M829.63 62.70L829.63 68.20 M831.07 620.60L831.07 615.10 M831.07 62.70L831.07 68.20 M832.50 620.60L832.50 610.40 M832.50 62.70L832.50 72.90 M840.82 620.60L840.82 615.10 M840.82 62.70L840.82 68.20 M845.78 620.60L845.78 615.10 M845.78 62.70L845.78 68.20 M849.29 620.60L849.29 615.10 M849.29 62.70L849.29 68.20 M852.02 620.60L852.02 615.10 M852.02 62.70L852.02 68.20 M854.24 620.60L854.24 615.10 M854.24 62.70L854.24 68.20 M856.12 620.60L856.12 615.10 M856.12 62.70L856.12 68.20 M857.75 620.60L857.75 615.10 M857.75 62.70L857.75 68.20 M859.19 620.60L859.19 615.10 M859.19 62.70L859.19 68.20 M860.10 620.60L860.10 610.40 M860.10 62.70L860.10 72.90 M868.94 620.60L868.94 615.10 M868.94 62.70L868.94 68.20 M873.90 620.60L873.90 615.10 M873.90 62.70L873.90 68.20 M877.41 620.60L877.41 615.10 M877.41 62.70L877.41 68.20 M880.14 620.60L880.14 615.10 M880.14 62.70L880.14 68.20 M882.36 620.60L882.36 615.10 M882.36 62.70L882.36 68.20 M884.24 620.60L884.24 615.10 M884.24 62.70L884.24 68.20 M885.87 620.60L885.87 615.10 M885.87 62.70L885.87 68.20 M887.31 620.60L887.31 615.10 M887.31 62.70L887.31 68.20 M888.60 620.60L888.60 610.40 M888.60 62.70L888.60 72.90 M897.06 620.60L897.06 615.10 M897.06 62.70L897.06 68.20 M902.02 620.60L902.02 615.10 M902.02 62.70L902.02 68.20 M905.53 620.60L905.53 615.10 M905.53 62.70L905.53 68.20 M908.26 620.60L908.26 615.10 M908.26 62.70L908.26 68.20 M910.48 620.60L910.48 615.10 M910.48 62.70L910.48 68.20 M912.36 620.60L912.36 615.10 M912.36 62.70L912.36 68.20 M913.99 620.60L913.99 615.10 M913.99 62.70L913.99 68.20 M915.43 620.60L915.43 615.10 M915.43 62.70L915.43 68.20 M916.72 620.60L916.72 610.40 M916.72 62.70L916.72 72.90 M579.60 620.84L589.80 620.84 M916.60 620.84L906.40 620.84 M579.60 604.02L585.10 604.02 M916.60 604.02L911.10 604.02 M579.60 594.17L585.10 594.17 M916.60 594.17L911.10 594.17 M579.60 587.19L585.10 587.19 M916.60 587.19L911.10 587.19 M579.60 581.77L585.10 581.77 M916.60 581.77L911.10 581.77 M579.60 577.35L585.10 577.35 M916.60 577.35L911.10 577.35 M579.60 573.61L585.10 573.61 M916.60 573.61L911.10 573.61 M579.60 570.37L585.10 570.37 M916.60 570.37L911.10 570.37 M579.60 567.51L585.10 567.51 M916.60 567.51L911.10 567.51 M579.60 564.80L589.80 564.80 M916.60 564.80L906.40 564.80 M579.60 548.13L585.10 548.13 M916.60 548.13L911.10 548.13 M579.60 538.28L585.10 538.28 M916.60 538.28L911.10 538.28 M579.60 531.30L585.10 531.30 M916.60 531.30L911.10 531.30 M579.60 525.88L585.10 525.88 M916.60 525.88L911.10 525.88 M579.60 521.46L585.10 521.46 M916.60 521.46L911.10 521.46 M579.60 517.72L585.10 517.72 M916.60 517.72L911.10 517.72 M579.60 514.48L585.10 514.48 M916.60 514.48L911.10 514.48 M579.60 511.62L585.10 511.62 M916.60 511.62L911.10 511.62 M579.60 509.10L589.80 509.10 M916.60 509.10L906.40 509.10 M579.60 492.24L585.10 492.24 M916.60 492.24L911.10 492.24 M579.60 482.39L585.10 482.39 M916.60 482.39L911.10 482.39 M579.60 475.41L585.10 475.41 M916.60 475.41L911.10 475.41 M579.60 469.99L585.10 469.99 M916.60 469.99L911.10 469.99 M579.60 465.57L585.10 465.57 M916.60 465.57L911.10 465.57 M579.60 461.83L585.10 461.83 M916.60 461.83L911.10 461.83 M579.60 458.59L585.10 458.59 M916.60 458.59L911.10 458.59 M579.60 455.73L585.10 455.73 M916.60 455.73L911.10 455.73 M579.60 453.40L589.80 453.40 M916.60 453.40L906.40 453.40 M579.60 436.35L585.10 436.35 M916.60 436.35L911.10 436.35 M579.60 426.50L585.10 426.50 M916.60 426.50L911.10 426.50 M579.60 419.52L585.10 419.52 M916.60 419.52L911.10 419.52 M579.60 414.10L585.10 414.10 M916.60 414.10L911.10 414.10 M579.60 409.68L585.10 409.68 M916.60 409.68L911.10 409.68 M579.60 405.94L585.10 405.94 M916.60 405.94L911.10 405.94 M579.60 402.70L585.10 402.70 M916.60 402.70L911.10 402.70 M579.60 399.84L585.10 399.84 M916.60 399.84L911.10 399.84 M579.60 397.50L589.80 397.50 M916.60 397.50L906.40 397.50 M579.60 380.46L585.10 380.46 M916.60 380.46L911.10 380.46 M579.60 370.61L585.10 370.61 M916.60 370.61L911.10 370.61 M579.60 363.63L585.10 363.63 M916.60 363.63L911.10 363.63 M579.60 358.21L585.10 358.21 M916.60 358.21L911.10 358.21 M579.60 353.79L585.10 353.79 M916.60 353.79L911.10 353.79 M579.60 350.05L585.10 350.05 M916.60 350.05L911.10 350.05 M579.60 346.81L585.10 346.81 M916.60 346.81L911.10 346.81 M579.60 343.95L585.10 343.95 M916.60 343.95L911.10 343.95 M579.60 341.60L589.80 341.60 M916.60 341.60L906.40 341.60 M579.60 324.57L585.10 324.57 M916.60 324.57L911.10 324.57 M579.60 314.72L585.10 314.72 M916.60 314.72L911.10 314.72 M579.60 307.74L585.10 307.74 M916.60 307.74L911.10 307.74 M579.60 302.32L585.10 302.32 M916.60 302.32L911.10 302.32 M579.60 297.90L585.10 297.90 M916.60 297.90L911.10 297.90 M579.60 294.16L585.10 294.16 M916.60 294.16L911.10 294.16 M579.60 290.92L585.10 290.92 M916.60 290.92L911.10 290.92 M579.60 288.06L585.10 288.06 M916.60 288.06L911.10 288.06 M579.60 285.50L589.80 285.50 M916.60 285.50L906.40 285.50 M579.60 268.68L585.10 268.68 M916.60 268.68L911.10 268.68 M579.60 258.83L585.10 258.83 M916.60 258.83L911.10 258.83 M579.60 251.85L585.10 251.85 M916.60 251.85L911.10 251.85 M579.60 246.43L585.10 246.43 M916.60 246.43L911.10 246.43 M579.60 242.01L585.10 242.01 M916.60 242.01L911.10 242.01 M579.60 238.27L585.10 238.27 M916.60 238.27L911.10 238.27 M579.60 235.03L585.10 235.03 M916.60 235.03L911.10 235.03 M579.60 232.17L585.10 232.17 M916.60 232.17L911.10 232.17 M579.60 229.50L589.80 229.50 M916.60 229.50L906.40 229.50 M579.60 212.79L585.10 212.79 M916.60 212.79L911.10 212.79 M579.60 202.94L585.10 202.94 M916.60 202.94L911.10 202.94 M579.60 195.96L585.10 195.96 M916.60 195.96L911.10 195.96 M579.60 190.54L585.10 190.54 M916.60 190.54L911.10 190.54 M579.60 186.12L585.10 186.12 M916.60 186.12L911.10 186.12 M579.60 182.38L585.10 182.38 M916.60 182.38L911.10 182.38 M579.60 179.14L585.10 179.14 M916.60 179.14L911.10 179.14 M579.60 176.28L585.10 176.28 M916.60 176.28L911.10 176.28 M579.60 173.40L589.80 173.40 M916.60 173.40L906.40 173.40 M579.60 156.90L585.10 156.90 M916.60 156.90L911.10 156.90 M579.60 147.05L585.10 147.05 M916.60 147.05L911.10 147.05 M579.60 140.07L585.10 140.07 M916.60 140.07L911.10 140.07 M579.60 134.65L585.10 134.65 M916.60 134.65L911.10 134.65 M579.60 130.23L585.10 130.23 M916.60 130.23L911.10 130.23 M579.60 126.49L585.10 126.49 M916.60 126.49L911.10 126.49 M579.60 123.25L585.10 123.25 M916.60 123.25L911.10 123.25 M579.60 120.39L585.10 120.39 M916.60 120.39L911.10 120.39 M579.60 117.80L589.80 117.80 M916.60 117.80L906.40 117.80 M579.60 101.01L585.10 101.01 M916.60 101.01L911.10 101.01 M579.60 91.16L585.10 91.16 M916.60 91.16L911.10 91.16 M579.60 84.18L585.10 84.18 M916.60 84.18L911.10 84.18 M579.60 78.76L585.10 78.76 M916.60 78.76L911.10 78.76 M579.60 74.34L585.10 74.34 M916.60 74.34L911.10 74.34 M579.60 70.60L585.10 70.60 M916.60 70.60L911.10 70.60 M579.60 67.36L585.10 67.36 M916.60 67.36L911.10 67.36 M579.60 64.50L585.10 64.50 M916.60 64.50L911.10 64.50" stroke="#000" stroke-width="1.5" fill="none"/>
<rect x="579.60" y="62.70" width="337.00" height="557.90" fill="none" stroke="#000" stroke-width="1.8"/>
<clipPath id="cb"><rect x="570" y="560" width="200" height="61.4"/></clipPath>
<polygon points="640.5,621.2 654.3,621.2 653.2,618.6 650.2,617.4 647.6,615.4 645,617.4 642,618.6" fill="#ffff00"/>
</g>
<g font-family="Liberation Sans, sans-serif" fill="#000">
<path transform="translate(55.65,537.84) scale(27)" d="M0.3726 0H0.2847V-0.5601Q0.21 -0.495 0.1089 -0.4468V-0.5317Q0.26 -0.605 0.3155 -0.7158H0.3726Z"/>
<text x="70.66" y="537.84" font-size="27">0</text>
<path transform="translate(85.68,524.24) scale(15.5)" d="M0.3726 0H0.2847V-0.5601Q0.21 -0.495 0.1089 -0.4468V-0.5317Q0.26 -0.605 0.3155 -0.7158H0.3726Z"/>
<path transform="translate(55.65,448.83) scale(27)" d="M0.3726 0H0.2847V-0.5601Q0.21 -0.495 0.1089 -0.4468V-0.5317Q0.26 -0.605 0.3155 -0.7158H0.3726Z"/>
<text x="70.66" y="448.83" font-size="27">0</text>
<text x="85.68" y="435.23" font-size="15.5">2</text>
<path transform="translate(55.65,359.82) scale(27)" d="M0.3726 0H0.2847V-0.5601Q0.21 -0.495 0.1089 -0.4468V-0.5317Q0.26 -0.605 0.3155 -0.7158H0.3726Z"/>
<text x="70.66" y="359.82" font-size="27">0</text>
<text x="85.68" y="346.22" font-size="15.5">3</text>
<path transform="translate(55.65,270.82) scale(27)" d="M0.3726 0H0.2847V-0.5601Q0.21 -0.495 0.1089 -0.4468V-0.5317Q0.26 -0.605 0.3155 -0.7158H0.3726Z"/>
<text x="70.66" y="270.82" font-size="27">0</text>
<text x="85.68" y="257.22" font-size="15.5">4</text>
<path transform="translate(55.65,181.81) scale(27)" d="M0.3726 0H0.2847V-0.5601Q0.21 -0.495 0.1089 -0.4468V-0.5317Q0.26 -0.605 0.3155 -0.7158H0.3726Z"/>
<text x="70.66" y="181.81" font-size="27">0</text>
<text x="85.68" y="168.21" font-size="15.5">5</text>
<path transform="translate(55.65,92.80) scale(27)" d="M0.3726 0H0.2847V-0.5601Q0.21 -0.495 0.1089 -0.4468V-0.5317Q0.26 -0.605 0.3155 -0.7158H0.3726Z"/>
<text x="70.66" y="92.80" font-size="27">0</text>
<text x="85.68" y="79.20" font-size="15.5">6</text>
<path transform="translate(524.18,630.64) scale(27)" d="M0.3726 0H0.2847V-0.5601Q0.21 -0.495 0.1089 -0.4468V-0.5317Q0.26 -0.605 0.3155 -0.7158H0.3726Z"/>
<text x="539.20" y="630.64" font-size="27">0</text>
<text x="554.22" y="617.34" font-size="15.5">-9</text>
<path transform="translate(524.18,574.75) scale(27)" d="M0.3726 0H0.2847V-0.5601Q0.21 -0.495 0.1089 -0.4468V-0.5317Q0.26 -0.605 0.3155 -0.7158H0.3726Z"/>
<text x="539.20" y="574.75" font-size="27">0</text>
<text x="554.22" y="561.45" font-size="15.5">-8</text>
<path transform="translate(524.18,518.86) scale(27)" d="M0.3726 0H0.2847V-0.5601Q0.21 -0.495 0.1089 -0.4468V-0.5317Q0.26 -0.605 0.3155 -0.7158H0.3726Z"/>
<text x="539.20" y="518.86" font-size="27">0</text>
<text x="554.22" y="505.56" font-size="15.5">-7</text>
<path transform="translate(524.18,462.97) scale(27)" d="M0.3726 0H0.2847V-0.5601Q0.21 -0.495 0.1089 -0.4468V-0.5317Q0.26 -0.605 0.3155 -0.7158H0.3726Z"/>
<text x="539.20" y="462.97" font-size="27">0</text>
<text x="554.22" y="449.67" font-size="15.5">-6</text>
<path transform="translate(524.18,407.08) scale(27)" d="M0.3726 0H0.2847V-0.5601Q0.21 -0.495 0.1089 -0.4468V-0.5317Q0.26 -0.605 0.3155 -0.7158H0.3726Z"/>
<text x="539.20" y="407.08" font-size="27">0</text>
<text x="554.22" y="393.78" font-size="15.5">-5</text>
<path transform="translate(524.18,351.19) scale(27)" d="M0.3726 0H0.2847V-0.5601Q0.21 -0.495 0.1089 -0.4468V-0.5317Q0.26 -0.605 0.3155 -0.7158H0.3726Z"/>
<text x="539.20" y="351.19" font-size="27">0</text>
<text x="554.22" y="337.89" font-size="15.5">-4</text>
<path transform="translate(524.18,295.30) scale(27)" d="M0.3726 0H0.2847V-0.5601Q0.21 -0.495 0.1089 -0.4468V-0.5317Q0.26 -0.605 0.3155 -0.7158H0.3726Z"/>
<text x="539.20" y="295.30" font-size="27">0</text>
<text x="554.22" y="282.00" font-size="15.5">-3</text>
<path transform="translate(524.18,239.41) scale(27)" d="M0.3726 0H0.2847V-0.5601Q0.21 -0.495 0.1089 -0.4468V-0.5317Q0.26 -0.605 0.3155 -0.7158H0.3726Z"/>
<text x="539.20" y="239.41" font-size="27">0</text>
<text x="554.22" y="226.11" font-size="15.5">-2</text>
<path transform="translate(524.18,183.52) scale(27)" d="M0.3726 0H0.2847V-0.5601Q0.21 -0.495 0.1089 -0.4468V-0.5317Q0.26 -0.605 0.3155 -0.7158H0.3726Z"/>
<text x="539.20" y="183.52" font-size="27">0</text>
<text x="554.22" y="170.22" font-size="15.5">-</text>
<path transform="translate(559.38,170.22) scale(15.5)" d="M0.3726 0H0.2847V-0.5601Q0.21 -0.495 0.1089 -0.4468V-0.5317Q0.26 -0.605 0.3155 -0.7158H0.3726Z"/>
<path transform="translate(529.35,127.63) scale(27)" d="M0.3726 0H0.2847V-0.5601Q0.21 -0.495 0.1089 -0.4468V-0.5317Q0.26 -0.605 0.3155 -0.7158H0.3726Z"/>
<text x="544.36" y="127.63" font-size="27">0</text>
<text x="559.38" y="114.33" font-size="15.5">0</text>
<path transform="translate(529.35,71.74) scale(27)" d="M0.3726 0H0.2847V-0.5601Q0.21 -0.495 0.1089 -0.4468V-0.5317Q0.26 -0.605 0.3155 -0.7158H0.3726Z"/>
<text x="544.36" y="71.74" font-size="27">0</text>
<path transform="translate(559.38,58.44) scale(15.5)" d="M0.3726 0H0.2847V-0.5601Q0.21 -0.495 0.1089 -0.4468V-0.5317Q0.26 -0.605 0.3155 -0.7158H0.3726Z"/>
<path transform="translate(90.48,643.30) scale(22)" d="M0.3726 0H0.2847V-0.5601Q0.21 -0.495 0.1089 -0.4468V-0.5317Q0.26 -0.605 0.3155 -0.7158H0.3726Z"/>
<text x="102.71" y="643.30" font-size="22">0</text>
<text x="114.95" y="632.50" font-size="13">0</text>
<path transform="translate(564.03,651.40) scale(22)" d="M0.3726 0H0.2847V-0.5601Q0.21 -0.495 0.1089 -0.4468V-0.5317Q0.26 -0.605 0.3155 -0.7158H0.3726Z"/>
<text x="576.26" y="651.40" font-size="22">0</text>
<text x="588.50" y="640.60" font-size="13">0</text>
<path transform="translate(146.71,643.30) scale(22)" d="M0.3726 0H0.2847V-0.5601Q0.21 -0.495 0.1089 -0.4468V-0.5317Q0.26 -0.605 0.3155 -0.7158H0.3726Z"/>
<text x="158.95" y="643.30" font-size="22">0</text>
<text x="171.18" y="632.50" font-size="13">2</text>
<path transform="translate(620.27,651.40) scale(22)" d="M0.3726 0H0.2847V-0.5601Q0.21 -0.495 0.1089 -0.4468V-0.5317Q0.26 -0.605 0.3155 -0.7158H0.3726Z"/>
<text x="632.50" y="651.40" font-size="22">0</text>
<text x="644.74" y="640.60" font-size="13">2</text>
<path transform="translate(202.95,643.30) scale(22)" d="M0.3726 0H0.2847V-0.5601Q0.21 -0.495 0.1089 -0.4468V-0.5317Q0.26 -0.605 0.3155 -0.7158H0.3726Z"/>
<text x="215.18" y="643.30" font-size="22">0</text>
<text x="227.42" y="632.50" font-size="13">4</text>
<path transform="translate(676.51,651.40) scale(22)" d="M0.3726 0H0.2847V-0.5601Q0.21 -0.495 0.1089 -0.4468V-0.5317Q0.26 -0.605 0.3155 -0.7158H0.3726Z"/>
<text x="688.74" y="651.40" font-size="22">0</text>
<text x="700.98" y="640.60" font-size="13">4</text>
<path transform="translate(259.18,643.30) scale(22)" d="M0.3726 0H0.2847V-0.5601Q0.21 -0.495 0.1089 -0.4468V-0.5317Q0.26 -0.605 0.3155 -0.7158H0.3726Z"/>
<text x="271.42" y="643.30" font-size="22">0</text>
<text x="283.65" y="632.50" font-size="13">6</text>
<path transform="translate(732.75,651.40) scale(22)" d="M0.3726 0H0.2847V-0.5601Q0.21 -0.495 0.1089 -0.4468V-0.5317Q0.26 -0.605 0.3155 -0.7158H0.3726Z"/>
<text x="744.98" y="651.40" font-size="22">0</text>
<text x="757.22" y="640.60" font-size="13">6</text>
<path transform="translate(315.42,643.30) scale(22)" d="M0.3726 0H0.2847V-0.5601Q0.21 -0.495 0.1089 -0.4468V-0.5317Q0.26 -0.605 0.3155 -0.7158H0.3726Z"/>
<text x="327.65" y="643.30" font-size="22">0</text>
<text x="339.89" y="632.50" font-size="13">8</text>
<path transform="translate(788.99,651.40) scale(22)" d="M0.3726 0H0.2847V-0.5601Q0.21 -0.495 0.1089 -0.4468V-0.5317Q0.26 -0.605 0.3155 -0.7158H0.3726Z"/>
<text x="801.22" y="651.40" font-size="22">0</text>
<text x="813.46" y="640.60" font-size="13">8</text>
<path transform="translate(368.03,643.30) scale(22)" d="M0.3726 0H0.2847V-0.5601Q0.21 -0.495 0.1089 -0.4468V-0.5317Q0.26 -0.605 0.3155 -0.7158H0.3726Z"/>
<text x="380.27" y="643.30" font-size="22">0</text>
<path transform="translate(392.50,632.50) scale(13)" d="M0.3726 0H0.2847V-0.5601Q0.21 -0.495 0.1089 -0.4468V-0.5317Q0.26 -0.605 0.3155 -0.7158H0.3726Z"/>
<text x="399.74" y="632.50" font-size="13">0</text>
<path transform="translate(841.61,651.40) scale(22)" d="M0.3726 0H0.2847V-0.5601Q0.21 -0.495 0.1089 -0.4468V-0.5317Q0.26 -0.605 0.3155 -0.7158H0.3726Z"/>
<text x="853.85" y="651.40" font-size="22">0</text>
<path transform="translate(866.08,640.60) scale(13)" d="M0.3726 0H0.2847V-0.5601Q0.21 -0.495 0.1089 -0.4468V-0.5317Q0.26 -0.605 0.3155 -0.7158H0.3726Z"/>
<text x="873.32" y="640.60" font-size="13">0</text>
<path transform="translate(424.27,643.30) scale(22)" d="M0.3726 0H0.2847V-0.5601Q0.21 -0.495 0.1089 -0.4468V-0.5317Q0.26 -0.605 0.3155 -0.7158H0.3726Z"/>
<text x="436.50" y="643.30" font-size="22">0</text>
<path transform="translate(448.74,632.50) scale(13)" d="M0.3726 0H0.2847V-0.5601Q0.21 -0.495 0.1089 -0.4468V-0.5317Q0.26 -0.605 0.3155 -0.7158H0.3726Z"/>
<text x="455.97" y="632.50" font-size="13">2</text>
<path transform="translate(897.85,651.40) scale(22)" d="M0.3726 0H0.2847V-0.5601Q0.21 -0.495 0.1089 -0.4468V-0.5317Q0.26 -0.605 0.3155 -0.7158H0.3726Z"/>
<text x="910.09" y="651.40" font-size="22">0</text>
<path transform="translate(922.32,640.60) scale(13)" d="M0.3726 0H0.2847V-0.5601Q0.21 -0.495 0.1089 -0.4468V-0.5317Q0.26 -0.605 0.3155 -0.7158H0.3726Z"/>
<text x="929.56" y="640.60" font-size="13">2</text>
<text x="181.60" y="687.40" font-size="27">Frequency (Hz)</text>
<text x="655.00" y="695.70" font-size="27">Frequency (Hz)</text>
<text transform="translate(45.6,342.6) rotate(-90)" font-size="27.5">ε</text>
<rect x="22.6" y="325.5" width="8.1" height="2.5" rx="1" fill="#000"/>
<text transform="translate(507.2,373.0) rotate(-90) scale(0.9,0.74)" font-size="27">σ</text>
<text transform="translate(507.2,358.5) rotate(-90)" font-size="27">, S/m</text>
<text x="254.70" y="120.20" font-size="24.4">Ni@C (vol.%)</text>
<path transform="translate(305.80,160.00) scale(21.5)" d="M0.3726 0H0.2847V-0.5601Q0.21 -0.495 0.1089 -0.4468V-0.5317Q0.26 -0.605 0.3155 -0.7158H0.3726Z"/>
<text x="317.76" y="160.00" font-size="21.5">0</text>
<path transform="translate(305.80,187.10) scale(21.5)" d="M0.3726 0H0.2847V-0.5601Q0.21 -0.495 0.1089 -0.4468V-0.5317Q0.26 -0.605 0.3155 -0.7158H0.3726Z"/>
<text x="317.76" y="187.10" font-size="21.5">5</text>
<text x="305.80" y="214.30" font-size="21.5">25</text>
<text x="305.80" y="241.40" font-size="21.5">30</text>
<text x="305.80" y="295.00" font-size="21.5">pure epoxy</text>
</g>
<rect x="269.30" y="147.30" width="10.80" height="10.80" fill="#7f7f00"/>
<rect x="269.85" y="174.85" width="9.70" height="9.70" fill="#fff" stroke="#c23c48" stroke-width="1.1"/>
<rect x="269.30" y="201.20" width="10.80" height="10.80" fill="#0000ff"/>
<rect x="269.85" y="229.05" width="9.70" height="9.70" fill="#fff" stroke="#4cc84c" stroke-width="1.1"/>
<polygon points="274.70,280.50 276.35,285.23 281.36,285.34 277.36,288.37 278.81,293.16 274.70,290.30 270.59,293.16 272.04,288.37 268.04,285.34 273.05,285.23" fill="#ffff00"/>
</g>
</svg>
</body></html>
